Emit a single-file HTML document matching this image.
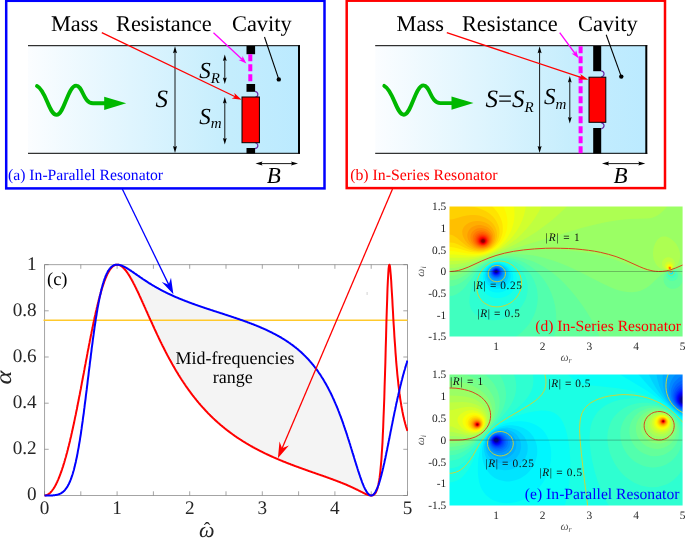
<!DOCTYPE html>
<html lang="en"><head><meta charset="utf-8"><title>Resonator absorption figure</title>
<style>html,body{margin:0;padding:0;background:#fff}svg{display:block}text{font-family:"Liberation Serif", serif;text-rendering:geometricPrecision}</style></head><body>
<svg width="685" height="538" viewBox="0 0 685 538">
<defs>
<linearGradient id="dg" x1="0" x2="1" y1="0" y2="0"><stop offset="0" stop-color="#fbfdff"/><stop offset="0.75" stop-color="#c4edfd"/><stop offset="1" stop-color="#bbeaff"/></linearGradient>
<clipPath id="cd"><rect x="449" y="206" width="234" height="131"/></clipPath>
<clipPath id="ce"><rect x="449" y="374" width="234" height="132"/></clipPath>
<clipPath id="cc"><rect x="44" y="263" width="364" height="234"/></clipPath>
</defs>
<rect width="685" height="538" fill="#fff"/>
<g id="panel-a">
<rect x="6.2" y="0.8" width="318.3" height="187.6" fill="#fff" stroke="#0000ff" stroke-width="2.5"/>
<rect x="28" y="45.7" width="271" height="107.8" fill="url(#dg)"/>
<path fill="none" stroke="#000" stroke-width="1" d="M28 45.7H300M28 153.3H300"/>
<path fill="none" stroke="#000" stroke-width="2" d="M299 45.2V153.8"/>
<rect x="246.5" y="46" width="8.6" height="8.2" fill="#000"/>
<rect x="246.5" y="84" width="8.6" height="7.8" fill="#000"/>
<rect x="246.5" y="148" width="8.6" height="5.5" fill="#000"/>
<path stroke="#ff00ff" stroke-width="4" stroke-dasharray="7 3" fill="none" d="M250.3 54.2V84"/>
<path fill="none" stroke="#6a28a8" stroke-width="1.2" d="M255.0 91.3c3.6 0.6 4 5.2 0 6.2"/>
<path fill="none" stroke="#6a28a8" stroke-width="1.2" d="M255.0 148.7c3.6 -0.6 4 -5.2 0 -6.2"/>
<rect x="242" y="97" width="17.4" height="45.7" fill="#ff0000" stroke="#000" stroke-width="1"/>
<path fill="none" stroke="#000" stroke-width="0.9" d="M175.0 51.6L175.0 147.6"/><path fill="#000" d="M175.0 153.0L173.0 146.0L175.0 147.1L177.0 146.0z"/><path fill="#000" d="M175.0 46.2L177.0 53.2L175.0 52.2L173.0 53.2z"/>
<path fill="none" stroke="#000" stroke-width="0.9" d="M224.8 59.6L224.8 79.1"/><path fill="#000" d="M224.8 84.1L222.9 77.6L224.8 78.6L226.7 77.6z"/><path fill="#000" d="M224.8 54.6L226.7 61.1L224.8 60.1L222.9 61.1z"/>
<path fill="none" stroke="#000" stroke-width="0.9" d="M224.8 102.0L224.8 139.6"/><path fill="#000" d="M224.8 144.6L222.9 138.1L224.8 139.1L226.7 138.1z"/><path fill="#000" d="M224.8 97.0L226.7 103.5L224.8 102.5L222.9 103.5z"/>
<path fill="none" stroke="#000" stroke-width="0.9" d="M260.9 163.6L292.6 163.6"/><path fill="#000" d="M298.0 163.6L291.0 165.6L292.1 163.6L291.0 161.6z"/><path fill="#000" d="M255.5 163.6L262.5 161.6L261.4 163.6L262.5 165.6z"/>
<path fill="none" stroke="#00b800" stroke-width="3.9" stroke-linecap="round" stroke-linejoin="round" d="M37.0 86.1C46.0 90.3 49.0 114.9 56.6 114.9C64.0 114.9 68.0 85.6 76.1 85.6C83.0 85.6 83.0 103.3 93.0 103.3L107.0 103.3"/><path fill="#00b800" d="M104.2 96.7L126.2 103.3L104.2 109.9z"/>
<text x="50.9" y="31" font-size="22.4">Mass</text>
<text x="116" y="31" font-size="22.4">Resistance</text>
<text x="232" y="31" font-size="22.4">Cavity</text>
<text x="155.5" y="106.8" font-size="25" font-style="italic">S</text>
<text x="199.3" y="78.3" font-size="23" font-style="italic">S<tspan font-size="15" dy="4.6">R</tspan></text>
<text x="199.3" y="123.8" font-size="23" font-style="italic">S<tspan font-size="15" dy="4.6">m</tspan></text>
<text x="266.8" y="183" font-size="23" font-style="italic">B</text>
<text x="8" y="180.2" font-size="15.7" fill="#0000ff">(a) In-Parallel Resonator</text>
<path fill="none" stroke="#ff0000" stroke-width="1.3" d="M101.8 32.7L235.8 97.0"/><path fill="#ff0000" d="M241.6 99.8L231.7 98.4L235.2 96.7L234.3 93.0z"/>
<path fill="none" stroke="#ff00ff" stroke-width="1.3" d="M213.5 32.7L242.5 59.8"/><path fill="#ff00ff" d="M246.4 63.5L238.6 60.1L242.0 59.4L242.5 56.0z"/>
<path stroke="#000" stroke-width="1.1" fill="none" d="M264.5 37L278.8 79.4"/><circle cx="278.8" cy="79.4" r="2.2" fill="#000"/>
</g>
<g id="panel-b">
<rect x="346.7" y="0.7" width="318.3" height="187.4" fill="#fff" stroke="#ff0000" stroke-width="2.5"/>
<rect x="375.2" y="45.7" width="271.1" height="107.8" fill="url(#dg)"/>
<path fill="none" stroke="#000" stroke-width="1" d="M375.2 45.7H647.3M375.2 153.3H647.3"/>
<path fill="none" stroke="#000" stroke-width="2" d="M646.3 45.2V153.8"/>
<rect x="593.2" y="46" width="8" height="25.2" fill="#000"/>
<rect x="593.2" y="128" width="8" height="25.5" fill="#000"/>
<path stroke="#ff00ff" stroke-width="4" stroke-dasharray="7 3" fill="none" d="M580.6 46.3V153.2"/>
<path fill="none" stroke="#6a28a8" stroke-width="1.2" d="M601.2 70.8c3.6 0.6 4 5.2 0 6.2"/>
<path fill="none" stroke="#6a28a8" stroke-width="1.2" d="M601.2 128.8c3.6 -0.6 4 -5.2 0 -6.2"/>
<rect x="589" y="77.2" width="16.8" height="45.1" fill="#ff0000" stroke="#000" stroke-width="1"/>
<path fill="none" stroke="#000" stroke-width="0.9" d="M539.6 51.6L539.6 147.6"/><path fill="#000" d="M539.6 153.0L537.6 146.0L539.6 147.1L541.6 146.0z"/><path fill="#000" d="M539.6 46.2L541.6 53.2L539.6 52.2L537.6 53.2z"/>
<path fill="none" stroke="#000" stroke-width="0.9" d="M569.8 81.0L569.8 118.6"/><path fill="#000" d="M569.8 123.6L567.9 117.1L569.8 118.1L571.7 117.1z"/><path fill="#000" d="M569.8 76.0L571.7 82.5L569.8 81.5L567.9 82.5z"/>
<path fill="none" stroke="#000" stroke-width="0.9" d="M607.4 163.6L639.9 163.6"/><path fill="#000" d="M645.3 163.6L638.3 165.6L639.3 163.6L638.3 161.6z"/><path fill="#000" d="M602.0 163.6L609.0 161.6L608.0 163.6L609.0 165.6z"/>
<path fill="none" stroke="#00b800" stroke-width="3.9" stroke-linecap="round" stroke-linejoin="round" d="M384.3 85.9C393.3 90.1 396.3 114.7 403.9 114.7C411.3 114.7 415.3 85.4 423.4 85.4C430.3 85.4 430.3 103.1 440.3 103.1L454.3 103.1"/><path fill="#00b800" d="M451.5 96.5L473.5 103.1L451.5 109.7z"/>
<text x="396.6" y="31" font-size="22.4">Mass</text>
<text x="461.9" y="31" font-size="22.4">Resistance</text>
<text x="578" y="31" font-size="22.4">Cavity</text>
<text x="485.5" y="106.7" font-size="25" font-style="italic">S<tspan font-style="normal">=</tspan>S<tspan font-size="15" dy="5">R</tspan></text>
<text x="544" y="104" font-size="23" font-style="italic">S<tspan font-size="15" dy="5">m</tspan></text>
<text x="613.5" y="183" font-size="23" font-style="italic">B</text>
<text x="350.2" y="179.8" font-size="15.8" fill="#ff0000">(b) In-Series Resonator</text>
<path fill="none" stroke="#ff0000" stroke-width="1.3" d="M446.8 32.7L582.3 77.8"/><path fill="#ff0000" d="M588.4 79.8L578.4 79.6L581.6 77.6L580.3 74.0z"/>
<path fill="none" stroke="#ff00ff" stroke-width="1.3" d="M559.7 32.7L575.4 54.0"/><path fill="#ff00ff" d="M578.6 58.3L571.6 53.5L575.0 53.5L576.1 50.2z"/>
<path stroke="#000" stroke-width="1.1" fill="none" d="M606.2 34.7L621.3 76.6"/><circle cx="621.3" cy="76.6" r="2.2" fill="#000"/>
</g>
<g id="plot-c">
<path fill="#f4f4f4" d="M117.1 264.7l1.5 0.1 1.4 0.3 1.5 0.4 1.5 0.6 1.4 0.7 1.5 0.8 1.4 0.8 1.5 0.9 1.4 1 1.5 1 1.4 1 1.5 1 1.4 1 1.5 1 1.4 1 1.5 1 1.4 1 1.5 1 1.4 0.9 1.5 1 1.4 0.9 1.5 1 1.4 0.9 1.5 0.8 1.4 0.9 1.5 0.9 1.4 0.8 1.5 0.8 1.4 0.8 1.5 0.8 1.5 0.8 1.4 0.7 1.5 0.7 1.4 0.8 1.5 0.7 1.4 0.7 1.5 0.6 1.4 0.7 1.5 0.7 1.4 0.6 1.5 0.6 1.4 0.6 1.5 0.6 1.4 0.6 1.5 0.6 1.4 0.6 1.5 0.6 1.4 0.5 1.5 0.6 1.4 0.5 1.5 0.6 1.4 0.5 1.5 0.5 1.4 0.5 1.5 0.5 1.4 0.5 1.5 0.5 1.4 0.5 1.5 0.5 1.5 0.5 1.4 0.5 1.5 0.5 1.4 0.5 1.5 0.4 1.4 0.5 1.5 0.5 1.4 0.5 1.5 0.4 1.4 0.5 1.5 0.5 1.4 0.5 1.5 0.4 1.4 0.5 1.5 0.5 1.4 0.4 1.5 0.5 1.4 0.5 1.5 0.5 1.4 0.5 1.5 0.4 1.4 0.5 1.5 0.5 1.4 0.5 1.5 0.5 1.4 0.5 1.5 0.5 1.4 0.5 1.5 0.6 1.5 0.5 1.4 0.5 1.5 0.6 1.4 0.5 1.5 0.6 1.4 0.5 1.5 0.6 1.4 0.6 1.5 0.6 1.4 0.6 1.5 0.6 1.4 0.6 1.5 0.7 1.4 0.6 1.5 0.7 1.4 0.7 1.5 0.7 1.4 0.7 1.5 0.7 1.4 0.7 1.5 0.8 1.4 0.8 1.5 0.8 1.4 0.8 1.5 0.9 1.4 0.8 1.5 0.9 1.5 0.9 1.4 1 1.5 1 1.4 1 1.5 1 1.4 1.1 1.5 1.1 1.4 1.1 1.5 1.2 1.4 1.2 1.5 1.3 1.4 1.3 1.5 1.4 1.4 1.4 1.5 1.4 1.4 1.5 1.5 1.6 1.4 1.6 1.5 1.7 1.4 1.8 1.5 1.8 1.4 1.9 1.5 2 1.4 2.1 1.5 2.1 1.4 2.3 1.5 2.3 1.4 2.5 1.5 2.5 1.5 2.7 1.4 2.7 1.5 2.9 1.4 3 1.5 3.2 1.4 3.3 1.5 3.4 1.4 3.5 1.5 3.7 1.4 3.8 1.5 4 1.4 4.1 1.5 4.3 1.4 4.3 1.5 4.5 1.4 4.6 1.5 4.7 1.4 4.7 1.5 4.7 1.4 4.8 1.5 4.6 1.4 4.6 1.5 4.4 1.4 4.2 1.5 3.9 1.4 3.5 1.5 3 1.5 2.5 1.4 1.8 1.5 1.2 1 0.4-1.4-0.2-1.5-0.5-1.4-0.5-1.5-0.7-1.4-0.7-1.5-0.7-1.4-0.7-1.5-0.7-1.4-0.8-1.5-0.7-1.4-0.7-1.5-0.7-1.4-0.6-1.5-0.7-1.4-0.7-1.5-0.6-1.4-0.6-1.5-0.6-1.4-0.6-1.5-0.6-1.4-0.6-1.5-0.5-1.4-0.6-1.5-0.6-1.5-0.5-1.4-0.5-1.5-0.6-1.4-0.5-1.5-0.5-1.4-0.6-1.5-0.5-1.4-0.5-1.5-0.5-1.4-0.5-1.5-0.5-1.4-0.5-1.5-0.5-1.4-0.5-1.5-0.5-1.4-0.5-1.5-0.6-1.4-0.5-1.5-0.5-1.4-0.5-1.5-0.5-1.4-0.5-1.5-0.5-1.4-0.6-1.5-0.5-1.4-0.5-1.5-0.6-1.4-0.5-1.5-0.5-1.5-0.6-1.4-0.5-1.5-0.6-1.4-0.6-1.5-0.5-1.4-0.6-1.5-0.6-1.4-0.6-1.5-0.6-1.4-0.6-1.5-0.6-1.4-0.6-1.5-0.7-1.4-0.6-1.5-0.6-1.4-0.7-1.5-0.7-1.4-0.6-1.5-0.7-1.4-0.7-1.5-0.7-1.4-0.7-1.5-0.8-1.4-0.7-1.5-0.8-1.4-0.7-1.5-0.8-1.5-0.8-1.4-0.8-1.5-0.8-1.4-0.9-1.5-0.8-1.4-0.9-1.5-0.9-1.4-0.9-1.5-0.9-1.4-0.9-1.5-1-1.4-0.9-1.5-1-1.4-1-1.5-1.1-1.4-1-1.5-1.1-1.4-1.1-1.5-1.1-1.4-1.1-1.5-1.2-1.4-1.2-1.5-1.2-1.4-1.2-1.5-1.3-1.4-1.3-1.5-1.3-1.4-1.4-1.5-1.3-1.5-1.4-1.4-1.5-1.5-1.4-1.4-1.5-1.5-1.6-1.4-1.6-1.5-1.6-1.4-1.6-1.5-1.7-1.4-1.7-1.5-1.8-1.4-1.8-1.5-1.8-1.4-1.9-1.5-1.9-1.4-2-1.5-2-1.4-2-1.5-2.2-1.4-2.1-1.5-2.2-1.4-2.3-1.5-2.3-1.4-2.3-1.5-2.4-1.4-2.5-1.5-2.5-1.4-2.5-1.5-2.7-1.5-2.6-1.4-2.7-1.5-2.8-1.4-2.8-1.5-2.9-1.4-2.9-1.5-3-1.4-3-1.5-3.1-1.4-3.1-1.5-3.1-1.4-3.2-1.5-3.2-1.4-3.2-1.5-3.2-1.4-3.3-1.5-3.2-1.4-3.3-1.5-3.2-1.4-3.2-1.5-3.2-1.4-3.2-1.5-3-1.4-3-1.5-2.9-1.4-2.8-1.5-2.7-1.5-2.5-1.4-2.3-1.5-2.1-1.4-2-1.5-1.6-1.4-1.5-1.5-1.1-1.4-0.8-1.5-0.4z"/>
<path fill="none" stroke="#a4a4a4" stroke-width="1" d="M44.55 264.65H407.50V495.50H44.55z"/>
<path fill="none" stroke="#808080" stroke-width="0.7" d="M44.5 495.5v-4.2M44.5 264.6v4.2M80.8 495.5v-4.2M80.8 264.6v4.2M117.1 495.5v-4.2M117.1 264.6v4.2M153.4 495.5v-4.2M153.4 264.6v4.2M189.7 495.5v-4.2M189.7 264.6v4.2M226.0 495.5v-4.2M226.0 264.6v4.2M262.3 495.5v-4.2M262.3 264.6v4.2M298.6 495.5v-4.2M298.6 264.6v4.2M334.9 495.5v-4.2M334.9 264.6v4.2M371.2 495.5v-4.2M371.2 264.6v4.2M407.5 495.5v-4.2M407.5 264.6v4.2M44.5 495.5h4.2M407.5 495.5h-4.2M44.5 449.3h4.2M407.5 449.3h-4.2M44.5 403.2h4.2M407.5 403.2h-4.2M44.5 357.0h4.2M407.5 357.0h-4.2M44.5 310.8h4.2M407.5 310.8h-4.2M44.5 264.6h4.2M407.5 264.6h-4.2"/>
<path stroke="#ffc92c" stroke-width="1.4" d="M43.5 320.3H407.5"/>
<g clip-path="url(#cc)">
<path fill="none" stroke="#ff0000" stroke-width="2" stroke-linejoin="round" d="M44.6 495.5l0.3 0 0.4 0 0.3-0.1 0.4-0.1 0.4-0.1 0.3-0.1 0.4-0.2 0.4-0.1 0.3-0.2 0.4-0.2 0.3-0.3 0.4-0.2 0.4-0.3 0.3-0.3 0.4-0.3 0.4-0.4 0.3-0.4 0.4-0.4 0.4-0.4 0.3-0.4 0.4-0.5 0.3-0.5 0.4-0.5 0.4-0.5 0.3-0.5 0.4-0.6 0.4-0.6 0.3-0.6 0.4-0.7 0.3-0.6 0.4-0.7 0.4-0.7 0.3-0.8 0.4-0.7 0.4-0.8 0.3-0.8 0.4-0.8 0.3-0.9 0.4-0.8 0.4-0.9 0.3-0.9 0.4-1 0.4-0.9 0.3-1 0.4-1 0.4-1 0.3-1.1 0.4-1 0.3-1.1 0.4-1.1 0.4-1.1 0.3-1.2 0.4-1.2 0.4-1.2 0.3-1.2 0.4-1.2 0.3-1.3 0.4-1.2 0.4-1.3 0.3-1.4 0.4-1.3 0.4-1.3 0.3-1.4 0.4-1.4 0.3-1.4 0.4-1.5 0.4-1.4 0.3-1.5 0.4-1.5 0.4-1.5 0.3-1.6 0.4-1.5 0.4-1.6 0.3-1.6 0.4-1.6 0.3-1.6 0.4-1.6 0.4-1.7 0.3-1.6 0.4-1.7 0.4-1.7 0.3-1.7 0.4-1.8 0.3-1.7 0.4-1.8 0.4-1.7 0.3-1.8 0.4-1.8 0.4-1.8 0.3-1.8 0.4-1.9 0.3-1.8 0.4-1.8 0.4-1.9 0.3-1.9 0.4-1.9 0.4-1.8 0.3-1.9 0.4-1.9 0.4-1.9 0.3-2 0.4-1.9 0.3-1.9 0.4-1.9 0.4-2 0.3-1.9 0.4-1.9 0.4-2 0.3-1.9 0.4-1.9 0.3-2 0.4-1.9 0.4-1.9 0.3-2 0.4-1.9 0.4-1.9 0.3-2 0.4-1.9 0.3-1.9 0.4-1.9 0.4-1.9 0.3-1.9 0.4-1.9 0.4-1.8 0.3-1.9 0.4-1.8 0.4-1.9 0.3-1.8 0.4-1.8 0.3-1.8 0.4-1.8 0.4-1.8 0.3-1.7 0.4-1.8 0.4-1.7 0.3-1.7 0.4-1.7 0.3-1.7 0.4-1.6 0.4-1.7 0.3-1.6 0.4-1.6 0.4-1.5 0.3-1.6 0.4-1.5 0.3-1.5 0.4-1.5 0.4-1.4 0.3-1.5 0.4-1.4 0.4-1.4 0.3-1.3 0.4-1.3 0.4-1.4 0.3-1.2 0.4-1.3 0.3-1.2 0.4-1.2 0.4-1.2 0.3-1.1 0.4-1.1 0.4-1.1 0.3-1 0.4-1.1 0.3-1 0.4-0.9 0.4-1 0.3-0.9 0.4-0.9 0.4-0.8 0.3-0.8 0.4-0.8 0.3-0.8 0.4-0.7 0.4-0.7 0.3-0.7 0.4-0.6 0.4-0.6 0.3-0.6 0.4-0.6 0.3-0.5 0.4-0.5 0.4-0.4 0.3-0.5 0.4-0.4 0.4-0.4 0.3-0.3 0.4-0.3 0.4-0.3 0.3-0.3 0.4-0.2 0.3-0.3 0.4-0.1 0.4-0.2 0.3-0.1 0.4-0.2 0.4 0 0.3-0.1 0.4 0 0.3 0 0.4 0 0.4 0 0.3 0.1 0.4 0 0.4 0.1 0.3 0.2 0.4 0.1 0.3 0.2 0.4 0.2 0.4 0.2 0.3 0.2 0.4 0.3 0.4 0.2 0.3 0.3 0.4 0.3 0.4 0.4 0.3 0.3 0.4 0.4 0.3 0.4 0.4 0.4 0.4 0.4 0.3 0.4 0.4 0.4 0.4 0.5 0.3 0.5 0.4 0.5 0.3 0.5 0.4 0.5 0.4 0.5 0.3 0.5 0.4 0.6 0.4 0.6 0.3 0.5 0.4 0.6 0.3 0.6 0.4 0.6 0.4 0.7 0.3 0.6 0.4 0.6 0.4 0.7 0.3 0.7 0.4 0.6 0.4 0.7 0.3 0.7 0.4 0.7 0.3 0.7 0.4 0.7 0.4 0.7 0.3 0.7 0.4 0.8 0.4 0.7 0.3 0.7 0.4 0.8 0.3 0.7 0.4 0.8 0.4 0.7 0.3 0.8 0.4 0.8 0.4 0.7 0.3 0.8 0.4 0.8 0.3 0.8 0.4 0.8 0.4 0.8 0.3 0.8 0.4 0.8 0.4 0.8 0.3 0.8 0.4 0.8 0.4 0.8 0.3 0.8 0.4 0.8 0.3 0.8 0.4 0.8 0.4 0.8 0.3 0.8 0.4 0.8 0.4 0.9 0.3 0.8 0.4 0.8 0.3 0.8 0.4 0.8 0.4 0.8 0.3 0.8 0.4 0.9 0.4 0.8 0.3 0.8 0.4 0.8 0.3 0.8 0.4 0.8 0.4 0.8 0.3 0.8 0.4 0.8 0.4 0.8 0.3 0.8 0.4 0.8 0.4 0.8 0.3 0.8 0.4 0.8 0.3 0.8 0.4 0.8 0.4 0.8 0.3 0.8 0.4 0.8 0.4 0.8 0.3 0.8 0.4 0.7 0.3 0.8 0.4 0.8 0.4 0.8 0.3 0.7 0.4 0.8 0.4 0.8 0.3 0.7 0.4 0.8 0.3 0.8 0.4 0.7 0.4 0.8 0.3 0.7 0.4 0.8 0.4 0.7 0.3 0.7 0.4 0.8 0.4 0.7 0.3 0.8 0.4 0.7 0.3 0.7 0.4 0.7 0.4 0.7 0.3 0.8 0.4 0.7 0.4 0.7 0.3 0.7 0.4 0.7 0.3 0.7 0.4 0.7 0.4 0.7 0.3 0.7 0.4 0.7 0.4 0.6 0.3 0.7 0.4 0.7 0.3 0.7 0.4 0.7 0.4 0.6 0.3 0.7 0.4 0.6 0.4 0.7 0.3 0.7 0.4 0.6 0.4 0.7 0.3 0.6 0.4 0.6 0.3 0.7 0.4 0.6 0.4 0.6 0.3 0.7 0.4 0.6 0.4 0.6 0.3 0.6 0.4 0.7 0.3 0.6 0.4 0.6 0.4 0.6 0.3 0.6 0.4 0.6 0.4 0.6 0.3 0.6 0.4 0.6 0.3 0.6 0.4 0.5 0.4 0.6 0.3 0.6 0.4 0.6 0.4 0.5 0.3 0.6 0.4 0.6 0.3 0.5 0.4 0.6 0.4 0.5 0.3 0.6 0.4 0.5 0.4 0.6 0.3 0.5 0.4 0.6 0.4 0.5 0.3 0.5 0.4 0.6 0.3 0.5 0.4 0.5 0.4 0.6 0.3 0.5 0.4 0.5 0.4 0.5 0.3 0.5 0.4 0.5 0.3 0.5 0.4 0.5 0.4 0.5 0.3 0.5 0.4 0.5 0.4 0.5 0.3 0.5 0.4 0.5 0.3 0.5 0.4 0.4 0.4 0.5 0.3 0.5 0.4 0.5 0.4 0.4 0.3 0.5 0.4 0.5 0.4 0.4 0.3 0.5 0.4 0.4 0.3 0.5 0.4 0.4 0.4 0.5 0.3 0.4 0.4 0.5 0.4 0.4 0.3 0.5 0.4 0.4 0.3 0.4 0.4 0.5 0.4 0.4 0.3 0.4 0.4 0.4 0.4 0.5 0.3 0.4 0.4 0.4 0.3 0.4 0.4 0.4 0.4 0.4 0.3 0.4 0.4 0.4 0.4 0.4 0.3 0.4 0.4 0.4 0.4 0.4 0.3 0.4 0.4 0.4 0.3 0.4 0.4 0.4 0.4 0.4 0.3 0.4 0.4 0.4 0.4 0.3 0.3 0.4 0.4 0.4 0.3 0.4 0.4 0.3 0.4 0.4 0.3 0.4 0.4 0.3 0.4 0.4 0.3 0.4 0.4 0.3 0.3 0.4 0.4 0.3 0.4 0.4 0.3 0.3 0.4 0.4 0.4 0.3 0.3 0.4 0.4 0.3 0.4 0.3 0.3 0.4 0.4 0.3 0.3 0.4 0.4 0.3 0.4 0.3 0.3 0.4 0.4 0.3 0.4 0.3 0.3 0.3 0.4 0.4 0.3 0.3 0.4 0.3 0.4 0.3 0.3 0.3 0.4 0.4 0.4 0.3 0.3 0.3 0.4 0.3 0.3 0.3 0.4 0.3 0.4 0.3 0.3 0.3 0.4 0.3 0.4 0.3 0.3 0.3 0.4 0.3 0.4 0.3 0.3 0.3 0.4 0.3 0.3 0.3 0.4 0.3 0.4 0.3 0.3 0.2 0.4 0.3 0.4 0.3 0.3 0.3 0.4 0.3 0.3 0.3 0.4 0.2 0.4 0.3 0.3 0.3 0.4 0.3 0.4 0.2 0.3 0.3 0.4 0.3 0.3 0.2 0.4 0.3 0.4 0.3 0.3 0.2 0.4 0.3 0.4 0.3 0.3 0.2 0.4 0.3 0.4 0.2 0.3 0.3 0.4 0.3 0.3 0.2 0.4 0.3 0.4 0.2 0.3 0.3 0.4 0.2 0.4 0.3 0.3 0.2 0.4 0.3 0.3 0.2 0.4 0.2 0.4 0.3 0.3 0.2 0.4 0.3 0.4 0.2 0.3 0.2 0.4 0.3 0.3 0.2 0.4 0.2 0.4 0.3 0.3 0.2 0.4 0.2 0.4 0.3 0.3 0.2 0.4 0.2 0.3 0.2 0.4 0.3 0.4 0.2 0.3 0.2 0.4 0.2 0.4 0.3 0.3 0.2 0.4 0.2 0.4 0.2 0.3 0.2 0.4 0.3 0.3 0.2 0.4 0.2 0.4 0.2 0.3 0.2 0.4 0.2 0.4 0.2 0.3 0.2 0.4 0.3 0.3 0.2 0.4 0.2 0.4 0.2 0.3 0.2 0.4 0.2 0.4 0.2 0.3 0.2 0.4 0.2 0.3 0.2 0.4 0.2 0.4 0.2 0.3 0.2 0.4 0.2 0.4 0.2 0.3 0.2 0.4 0.2 0.4 0.2 0.3 0.2 0.4 0.1 0.3 0.2 0.4 0.2 0.4 0.2 0.3 0.2 0.4 0.2 0.4 0.2 0.3 0.2 0.4 0.2 0.3 0.1 0.4 0.2 0.4 0.2 0.3 0.2 0.4 0.2 0.4 0.2 0.3 0.1 0.4 0.2 0.3 0.2 0.4 0.2 0.4 0.2 0.3 0.1 0.4 0.2 0.4 0.2 0.3 0.2 0.4 0.1 0.4 0.2 0.3 0.2 0.4 0.1 0.3 0.2 0.4 0.2 0.4 0.2 0.3 0.1 0.4 0.2 0.4 0.2 0.3 0.1 0.4 0.2 0.3 0.2 0.4 0.1 0.4 0.2 0.3 0.2 0.4 0.1 0.4 0.2 0.3 0.2 0.4 0.1 0.3 0.2 0.4 0.1 0.4 0.2 0.3 0.2 0.4 0.1 0.4 0.2 0.3 0.1 0.4 0.2 0.4 0.2 0.3 0.1 0.4 0.2 0.3 0.1 0.4 0.2 0.4 0.1 0.3 0.2 0.4 0.2 0.4 0.1 0.3 0.2 0.4 0.1 0.3 0.2 0.4 0.1 0.4 0.2 0.3 0.1 0.4 0.2 0.4 0.1 0.3 0.2 0.4 0.1 0.3 0.2 0.4 0.1 0.4 0.2 0.3 0.1 0.4 0.2 0.4 0.1 0.3 0.1 0.4 0.2 0.4 0.1 0.3 0.2 0.4 0.1 0.3 0.2 0.4 0.1 0.4 0.2 0.3 0.1 0.4 0.1 0.4 0.2 0.3 0.1 0.4 0.2 0.3 0.1 0.4 0.1 0.4 0.2 0.3 0.1 0.4 0.2 0.4 0.1 0.3 0.1 0.4 0.2 0.3 0.1 0.4 0.2 0.4 0.1 0.3 0.1 0.4 0.2 0.4 0.1 0.3 0.1 0.4 0.2 0.4 0.1 0.3 0.1 0.4 0.2 0.3 0.1 0.4 0.1 0.4 0.2 0.3 0.1 0.4 0.1 0.4 0.2 0.3 0.1 0.4 0.1 0.3 0.2 0.4 0.1 0.4 0.1 0.3 0.2 0.4 0.1 0.4 0.1 0.3 0.2 0.4 0.1 0.3 0.1 0.4 0.2 0.4 0.1 0.3 0.1 0.4 0.2 0.4 0.1 0.3 0.1 0.4 0.1 0.4 0.2 0.3 0.1 0.4 0.1 0.3 0.2 0.4 0.1 0.4 0.1 0.3 0.1 0.4 0.2 0.4 0.1 0.3 0.1 0.4 0.2 0.3 0.1 0.4 0.1 0.4 0.1 0.3 0.2 0.4 0.1 0.4 0.1 0.3 0.1 0.4 0.2 0.3 0.1 0.4 0.1 0.4 0.2 0.3 0.1 0.4 0.1 0.4 0.1 0.3 0.2 0.4 0.1 0.3 0.1 0.4 0.1 0.4 0.2 0.3 0.1 0.4 0.1 0.4 0.2 0.3 0.1 0.4 0.1 0.4 0.1 0.3 0.2 0.4 0.1 0.3 0.1 0.4 0.1 0.4 0.2 0.3 0.1 0.4 0.1 0.4 0.1 0.3 0.2 0.4 0.1 0.3 0.1 0.4 0.2 0.4 0.1 0.3 0.1 0.4 0.1 0.4 0.2 0.3 0.1 0.4 0.1 0.3 0.1 0.4 0.2 0.4 0.1 0.3 0.1 0.4 0.2 0.4 0.1 0.3 0.1 0.4 0.1 0.4 0.2 0.3 0.1 0.4 0.1 0.3 0.2 0.4 0.1 0.4 0.1 0.3 0.2 0.4 0.1 0.4 0.1 0.3 0.2 0.4 0.1 0.3 0.1 0.4 0.2 0.4 0.1 0.3 0.1 0.4 0.2 0.4 0.1 0.3 0.1 0.4 0.2 0.3 0.1 0.4 0.1 0.4 0.2 0.3 0.1 0.4 0.1 0.4 0.2 0.3 0.1 0.4 0.2 0.4 0.1 0.3 0.1 0.4 0.2 0.3 0.1 0.4 0.2 0.4 0.1 0.3 0.1 0.4 0.2 0.4 0.1 0.3 0.2 0.4 0.1 0.3 0.2 0.4 0.1 0.4 0.1 0.3 0.2 0.4 0.1 0.4 0.2 0.3 0.1 0.4 0.2 0.3 0.1 0.4 0.2 0.4 0.1 0.3 0.2 0.4 0.1 0.4 0.2 0.3 0.1 0.4 0.2 0.4 0.2 0.3 0.1 0.4 0.2 0.3 0.1 0.4 0.2 0.4 0.1 0.3 0.2 0.4 0.2 0.4 0.1 0.3 0.2 0.4 0.2 0.3 0.1 0.4 0.2 0.4 0.2 0.3 0.1 0.4 0.2 0.4 0.2 0.3 0.1 0.4 0.2 0.3 0.2 0.4 0.1 0.4 0.2 0.3 0.2 0.4 0.2 0.4 0.1 0.3 0.2 0.4 0.2 0.4 0.2 0.3 0.2 0.4 0.1 0.3 0.2 0.4 0.2 0.4 0.2 0.3 0.2 0.4 0.1 0.4 0.2 0.3 0.2 0.4 0.2 0.3 0.2 0.4 0.2 0.4 0.1 0.3 0.2 0.4 0.2 0.4 0.2 0.3 0.2 0.4 0.1 0.3 0.2 0.4 0.2 0.4 0.2 0.3 0.1 0.4 0.2 0.4 0.2 0.3 0.1 0.4 0.2 0.4 0.1 0.3 0.2 0.4 0.1 0.3 0.1 0.4 0.2 0.4 0.1 0.3 0.1 0.4 0.1 0.4 0 0.3 0.1 0.4 0.1 0.3 0 0.4 0 0.4 0 0.3 0 0.4-0.1 0.4-0.1 0.3-0.1 0.4-0.2 0.3-0.2 0.4-0.3 0.4-0.3 0.3-0.4 0.4-0.5 0.4-0.5 0.3-0.6 0.4-0.7 0.3-0.9 0.4-0.9 0.4-1.1 0.3-1.3 0.4-1.4 0.4-1.7 0.3-1.9 0.4-2.1 0.4-2.5 0.3-2.7 0.4-3.2 0.3-3.5 0.4-4.1 0.4-4.5 0.3-5.1 0.4-5.8 0.4-6.4 0.3-7.3 0.4-8 0.3-8.8 0.4-9.8 0.4-10.5 0.3-11.4 0.4-12.1 0.4-12.7 0.3-13.1 0.4-13.1 0.3-12.9 0.4-12.4 0.4-11.4 0.3-10.2 0.4-8.5 0.4-6.8 0.3-4.8 0.4-2.9 0.4-1 0.3 0.6 0.4 2.2 0.3 3.5 0.4 4.4 0.4 5.3 0.3 5.8 0.4 6.2 0.4 6.4 0.3 6.4 0.4 6.5 0.3 6.4 0.4 6.2 0.4 6 0.3 5.8 0.4 5.5 0.4 5.3 0.3 5.1 0.4 4.8 0.3 4.6 0.4 4.3 0.4 4.1 0.3 3.9 0.4 3.7 0.4 3.5 0.3 3.3 0.4 3.1 0.4 3 0.3 2.8 0.4 2.7 0.3 2.5 0.4 2.5 0.4 2.3 0.3 2.1 0.4 2.1 0.4 2 0.3 1.9 0.4 1.8 0.3 1.8 0.4 1.6 0.4 1.6 0.3 1.5 0.4 1.5 0.4 1.4 0.3 1.3 0.4 1.3 0.3 1.2 0.4 1.2 0.4 1.1 0.3 1.1 0.4 1.1"/>
<path fill="none" stroke="#0000ff" stroke-width="2" stroke-linejoin="round" d="M44.6 495.5l0.3 0 0.4 0 0.3 0 0.4 0 0.4 0 0.3 0 0.4 0 0.4 0 0.3 0 0.4 0 0.3 0 0.4 0 0.4 0 0.3 0 0.4 0 0.4 0 0.3 0 0.4-0.1 0.4 0 0.3 0 0.4 0 0.3 0 0.4 0 0.4-0.1 0.3 0 0.4 0 0.4-0.1 0.3 0 0.4-0.1 0.3 0 0.4-0.1 0.4 0 0.3-0.1 0.4-0.1 0.4-0.1 0.3-0.1 0.4-0.1 0.3-0.1 0.4-0.1 0.4-0.1 0.3-0.2 0.4-0.1 0.4-0.2 0.3-0.2 0.4-0.2 0.4-0.2 0.3-0.2 0.4-0.2 0.3-0.3 0.4-0.3 0.4-0.2 0.3-0.4 0.4-0.3 0.4-0.3 0.3-0.4 0.4-0.4 0.3-0.4 0.4-0.5 0.4-0.5 0.3-0.5 0.4-0.5 0.4-0.5 0.3-0.6 0.4-0.7 0.3-0.6 0.4-0.7 0.4-0.7 0.3-0.8 0.4-0.8 0.4-0.8 0.3-0.9 0.4-0.9 0.4-1 0.3-1 0.4-1 0.3-1.1 0.4-1.1 0.4-1.2 0.3-1.3 0.4-1.2 0.4-1.4 0.3-1.4 0.4-1.4 0.3-1.5 0.4-1.6 0.4-1.6 0.3-1.6 0.4-1.7 0.4-1.8 0.3-1.8 0.4-1.9 0.3-2 0.4-2 0.4-2 0.3-2.1 0.4-2.2 0.4-2.2 0.3-2.3 0.4-2.3 0.4-2.4 0.3-2.5 0.4-2.4 0.3-2.6 0.4-2.6 0.4-2.6 0.3-2.7 0.4-2.7 0.4-2.7 0.3-2.8 0.4-2.8 0.3-2.9 0.4-2.8 0.4-2.9 0.3-3 0.4-2.9 0.4-3 0.3-2.9 0.4-3 0.3-3 0.4-3 0.4-3 0.3-3 0.4-3 0.4-2.9 0.3-3 0.4-2.9 0.4-3 0.3-2.9 0.4-2.8 0.3-2.9 0.4-2.8 0.4-2.8 0.3-2.7 0.4-2.7 0.4-2.7 0.3-2.6 0.4-2.6 0.3-2.5 0.4-2.5 0.4-2.5 0.3-2.3 0.4-2.4 0.4-2.2 0.3-2.3 0.4-2.1 0.3-2.1 0.4-2.1 0.4-2 0.3-1.9 0.4-1.9 0.4-1.8 0.3-1.8 0.4-1.7 0.4-1.6 0.3-1.6 0.4-1.5 0.3-1.5 0.4-1.4 0.4-1.4 0.3-1.3 0.4-1.3 0.4-1.2 0.3-1.2 0.4-1.1 0.3-1 0.4-1 0.4-1 0.3-0.9 0.4-0.9 0.4-0.8 0.3-0.8 0.4-0.8 0.3-0.7 0.4-0.6 0.4-0.7 0.3-0.6 0.4-0.5 0.4-0.6 0.3-0.4 0.4-0.5 0.3-0.4 0.4-0.4 0.4-0.4 0.3-0.3 0.4-0.3 0.4-0.3 0.3-0.3 0.4-0.2 0.4-0.2 0.3-0.2 0.4-0.2 0.3-0.1 0.4-0.2 0.4-0.1 0.3-0.1 0.4 0 0.4-0.1 0.3 0 0.4 0 0.3 0 0.4 0 0.4 0 0.3 0 0.4 0.1 0.4 0 0.3 0.1 0.4 0.1 0.3 0.1 0.4 0.1 0.4 0.1 0.3 0.1 0.4 0.1 0.4 0.2 0.3 0.1 0.4 0.2 0.4 0.1 0.3 0.2 0.4 0.1 0.3 0.2 0.4 0.2 0.4 0.2 0.3 0.2 0.4 0.2 0.4 0.2 0.3 0.2 0.4 0.2 0.3 0.2 0.4 0.2 0.4 0.3 0.3 0.2 0.4 0.2 0.4 0.2 0.3 0.3 0.4 0.2 0.3 0.3 0.4 0.2 0.4 0.2 0.3 0.3 0.4 0.2 0.4 0.3 0.3 0.2 0.4 0.3 0.4 0.2 0.3 0.3 0.4 0.2 0.3 0.3 0.4 0.2 0.4 0.3 0.3 0.2 0.4 0.3 0.4 0.2 0.3 0.3 0.4 0.2 0.3 0.3 0.4 0.2 0.4 0.3 0.3 0.2 0.4 0.3 0.4 0.2 0.3 0.3 0.4 0.2 0.3 0.3 0.4 0.2 0.4 0.3 0.3 0.2 0.4 0.3 0.4 0.2 0.3 0.3 0.4 0.2 0.4 0.3 0.3 0.2 0.4 0.3 0.3 0.2 0.4 0.3 0.4 0.2 0.3 0.2 0.4 0.3 0.4 0.2 0.3 0.3 0.4 0.2 0.3 0.2 0.4 0.3 0.4 0.2 0.3 0.2 0.4 0.3 0.4 0.2 0.3 0.2 0.4 0.3 0.3 0.2 0.4 0.2 0.4 0.2 0.3 0.3 0.4 0.2 0.4 0.2 0.3 0.2 0.4 0.2 0.4 0.3 0.3 0.2 0.4 0.2 0.3 0.2 0.4 0.2 0.4 0.2 0.3 0.3 0.4 0.2 0.4 0.2 0.3 0.2 0.4 0.2 0.3 0.2 0.4 0.2 0.4 0.2 0.3 0.2 0.4 0.2 0.4 0.2 0.3 0.2 0.4 0.2 0.3 0.2 0.4 0.2 0.4 0.2 0.3 0.2 0.4 0.2 0.4 0.2 0.3 0.2 0.4 0.2 0.4 0.2 0.3 0.2 0.4 0.1 0.3 0.2 0.4 0.2 0.4 0.2 0.3 0.2 0.4 0.2 0.4 0.1 0.3 0.2 0.4 0.2 0.3 0.2 0.4 0.2 0.4 0.1 0.3 0.2 0.4 0.2 0.4 0.2 0.3 0.1 0.4 0.2 0.3 0.2 0.4 0.2 0.4 0.1 0.3 0.2 0.4 0.2 0.4 0.1 0.3 0.2 0.4 0.2 0.4 0.1 0.3 0.2 0.4 0.2 0.3 0.1 0.4 0.2 0.4 0.2 0.3 0.1 0.4 0.2 0.4 0.1 0.3 0.2 0.4 0.2 0.3 0.1 0.4 0.2 0.4 0.1 0.3 0.2 0.4 0.1 0.4 0.2 0.3 0.1 0.4 0.2 0.3 0.1 0.4 0.2 0.4 0.1 0.3 0.2 0.4 0.1 0.4 0.2 0.3 0.1 0.4 0.2 0.3 0.1 0.4 0.2 0.4 0.1 0.3 0.2 0.4 0.1 0.4 0.2 0.3 0.1 0.4 0.1 0.4 0.2 0.3 0.1 0.4 0.2 0.3 0.1 0.4 0.1 0.4 0.2 0.3 0.1 0.4 0.2 0.4 0.1 0.3 0.1 0.4 0.2 0.3 0.1 0.4 0.2 0.4 0.1 0.3 0.1 0.4 0.2 0.4 0.1 0.3 0.1 0.4 0.2 0.3 0.1 0.4 0.1 0.4 0.2 0.3 0.1 0.4 0.1 0.4 0.1 0.3 0.2 0.4 0.1 0.4 0.1 0.3 0.2 0.4 0.1 0.3 0.1 0.4 0.2 0.4 0.1 0.3 0.1 0.4 0.1 0.4 0.2 0.3 0.1 0.4 0.1 0.3 0.1 0.4 0.2 0.4 0.1 0.3 0.1 0.4 0.1 0.4 0.2 0.3 0.1 0.4 0.1 0.3 0.1 0.4 0.2 0.4 0.1 0.3 0.1 0.4 0.1 0.4 0.2 0.3 0.1 0.4 0.1 0.4 0.1 0.3 0.1 0.4 0.2 0.3 0.1 0.4 0.1 0.4 0.1 0.3 0.2 0.4 0.1 0.4 0.1 0.3 0.1 0.4 0.1 0.3 0.2 0.4 0.1 0.4 0.1 0.3 0.1 0.4 0.1 0.4 0.1 0.3 0.2 0.4 0.1 0.3 0.1 0.4 0.1 0.4 0.1 0.3 0.2 0.4 0.1 0.4 0.1 0.3 0.1 0.4 0.1 0.4 0.2 0.3 0.1 0.4 0.1 0.3 0.1 0.4 0.1 0.4 0.1 0.3 0.2 0.4 0.1 0.4 0.1 0.3 0.1 0.4 0.1 0.3 0.1 0.4 0.2 0.4 0.1 0.3 0.1 0.4 0.1 0.4 0.1 0.3 0.2 0.4 0.1 0.3 0.1 0.4 0.1 0.4 0.1 0.3 0.1 0.4 0.2 0.4 0.1 0.3 0.1 0.4 0.1 0.4 0.1 0.3 0.1 0.4 0.2 0.3 0.1 0.4 0.1 0.4 0.1 0.3 0.1 0.4 0.2 0.4 0.1 0.3 0.1 0.4 0.1 0.3 0.1 0.4 0.2 0.4 0.1 0.3 0.1 0.4 0.1 0.4 0.1 0.3 0.1 0.4 0.2 0.3 0.1 0.4 0.1 0.4 0.1 0.3 0.2 0.4 0.1 0.4 0.1 0.3 0.1 0.4 0.1 0.4 0.2 0.3 0.1 0.4 0.1 0.3 0.1 0.4 0.1 0.4 0.2 0.3 0.1 0.4 0.1 0.4 0.1 0.3 0.2 0.4 0.1 0.3 0.1 0.4 0.1 0.4 0.2 0.3 0.1 0.4 0.1 0.4 0.1 0.3 0.2 0.4 0.1 0.3 0.1 0.4 0.1 0.4 0.2 0.3 0.1 0.4 0.1 0.4 0.1 0.3 0.2 0.4 0.1 0.3 0.1 0.4 0.2 0.4 0.1 0.3 0.1 0.4 0.2 0.4 0.1 0.3 0.1 0.4 0.2 0.4 0.1 0.3 0.1 0.4 0.1 0.3 0.2 0.4 0.1 0.4 0.2 0.3 0.1 0.4 0.1 0.4 0.2 0.3 0.1 0.4 0.1 0.3 0.2 0.4 0.1 0.4 0.1 0.3 0.2 0.4 0.1 0.4 0.2 0.3 0.1 0.4 0.1 0.3 0.2 0.4 0.1 0.4 0.2 0.3 0.1 0.4 0.2 0.4 0.1 0.3 0.1 0.4 0.2 0.4 0.1 0.3 0.2 0.4 0.1 0.3 0.2 0.4 0.1 0.4 0.2 0.3 0.1 0.4 0.2 0.4 0.1 0.3 0.2 0.4 0.1 0.3 0.2 0.4 0.1 0.4 0.2 0.3 0.2 0.4 0.1 0.4 0.2 0.3 0.1 0.4 0.2 0.3 0.1 0.4 0.2 0.4 0.2 0.3 0.1 0.4 0.2 0.4 0.1 0.3 0.2 0.4 0.2 0.4 0.1 0.3 0.2 0.4 0.2 0.3 0.1 0.4 0.2 0.4 0.2 0.3 0.2 0.4 0.1 0.4 0.2 0.3 0.2 0.4 0.2 0.3 0.1 0.4 0.2 0.4 0.2 0.3 0.2 0.4 0.1 0.4 0.2 0.3 0.2 0.4 0.2 0.3 0.2 0.4 0.2 0.4 0.2 0.3 0.1 0.4 0.2 0.4 0.2 0.3 0.2 0.4 0.2 0.4 0.2 0.3 0.2 0.4 0.2 0.3 0.2 0.4 0.2 0.4 0.2 0.3 0.2 0.4 0.2 0.4 0.2 0.3 0.2 0.4 0.2 0.3 0.2 0.4 0.2 0.4 0.2 0.3 0.2 0.4 0.3 0.4 0.2 0.3 0.2 0.4 0.2 0.3 0.2 0.4 0.3 0.4 0.2 0.3 0.2 0.4 0.2 0.4 0.3 0.3 0.2 0.4 0.2 0.4 0.2 0.3 0.3 0.4 0.2 0.3 0.3 0.4 0.2 0.4 0.2 0.3 0.3 0.4 0.2 0.4 0.3 0.3 0.2 0.4 0.3 0.3 0.2 0.4 0.3 0.4 0.2 0.3 0.3 0.4 0.3 0.4 0.2 0.3 0.3 0.4 0.2 0.3 0.3 0.4 0.3 0.4 0.3 0.3 0.2 0.4 0.3 0.4 0.3 0.3 0.3 0.4 0.3 0.4 0.2 0.3 0.3 0.4 0.3 0.3 0.3 0.4 0.3 0.4 0.3 0.3 0.3 0.4 0.3 0.4 0.3 0.3 0.3 0.4 0.3 0.3 0.4 0.4 0.3 0.4 0.3 0.3 0.3 0.4 0.3 0.4 0.4 0.3 0.3 0.4 0.3 0.3 0.4 0.4 0.3 0.4 0.4 0.3 0.3 0.4 0.4 0.4 0.3 0.3 0.4 0.4 0.3 0.4 0.4 0.3 0.4 0.4 0.3 0.3 0.4 0.4 0.4 0.4 0.4 0.3 0.3 0.4 0.4 0.4 0.4 0.3 0.4 0.4 0.4 0.3 0.4 0.4 0.4 0.4 0.4 0.3 0.4 0.4 0.5 0.4 0.4 0.3 0.4 0.4 0.4 0.3 0.5 0.4 0.4 0.4 0.4 0.3 0.5 0.4 0.4 0.4 0.5 0.3 0.5 0.4 0.4 0.3 0.5 0.4 0.5 0.4 0.4 0.3 0.5 0.4 0.5 0.4 0.5 0.3 0.5 0.4 0.5 0.4 0.5 0.3 0.5 0.4 0.6 0.3 0.5 0.4 0.5 0.4 0.5 0.3 0.6 0.4 0.5 0.4 0.6 0.3 0.5 0.4 0.6 0.3 0.6 0.4 0.6 0.4 0.5 0.3 0.6 0.4 0.6 0.4 0.6 0.3 0.6 0.4 0.6 0.3 0.7 0.4 0.6 0.4 0.6 0.3 0.7 0.4 0.6 0.4 0.7 0.3 0.6 0.4 0.7 0.4 0.7 0.3 0.7 0.4 0.6 0.3 0.7 0.4 0.7 0.4 0.8 0.3 0.7 0.4 0.7 0.4 0.7 0.3 0.8 0.4 0.7 0.3 0.8 0.4 0.7 0.4 0.8 0.3 0.8 0.4 0.8 0.4 0.8 0.3 0.8 0.4 0.8 0.3 0.8 0.4 0.9 0.4 0.8 0.3 0.8 0.4 0.9 0.4 0.9 0.3 0.8 0.4 0.9 0.4 0.9 0.3 0.9 0.4 0.9 0.3 0.9 0.4 1 0.4 0.9 0.3 1 0.4 0.9 0.4 1 0.3 0.9 0.4 1 0.3 1 0.4 1 0.4 1 0.3 1 0.4 1 0.4 1.1 0.3 1 0.4 1.1 0.3 1 0.4 1.1 0.4 1.1 0.3 1 0.4 1.1 0.4 1.1 0.3 1.1 0.4 1.1 0.4 1.2 0.3 1.1 0.4 1.1 0.3 1.1 0.4 1.2 0.4 1.1 0.3 1.2 0.4 1.1 0.4 1.2 0.3 1.2 0.4 1.2 0.3 1.1 0.4 1.2 0.4 1.2 0.3 1.2 0.4 1.2 0.4 1.1 0.3 1.2 0.4 1.2 0.3 1.2 0.4 1.2 0.4 1.2 0.3 1.2 0.4 1.1 0.4 1.2 0.3 1.2 0.4 1.1 0.4 1.2 0.3 1.1 0.4 1.2 0.3 1.1 0.4 1.1 0.4 1.1 0.3 1.1 0.4 1.1 0.4 1.1 0.3 1 0.4 1.1 0.3 1 0.4 1 0.4 1 0.3 0.9 0.4 1 0.4 0.9 0.3 0.9 0.4 0.8 0.3 0.9 0.4 0.8 0.4 0.7 0.3 0.8 0.4 0.7 0.4 0.7 0.3 0.6 0.4 0.6 0.4 0.6 0.3 0.5 0.4 0.5 0.3 0.4 0.4 0.4 0.4 0.4 0.3 0.3 0.4 0.3 0.4 0.2 0.3 0.2 0.4 0.1 0.3 0.1 0.4 0 0.4 0 0.3-0.1 0.4-0.1 0.4-0.2 0.3-0.2 0.4-0.3 0.3-0.4 0.4-0.4 0.4-0.4 0.3-0.5 0.4-0.6 0.4-0.6 0.3-0.7 0.4-0.7 0.3-0.7 0.4-0.9 0.4-0.8 0.3-0.9 0.4-1 0.4-1 0.3-1.1 0.4-1.1 0.4-1.2 0.3-1.2 0.4-1.2 0.3-1.3 0.4-1.4 0.4-1.3 0.3-1.4 0.4-1.5 0.4-1.5 0.3-1.5 0.4-1.5 0.3-1.6 0.4-1.6 0.4-1.6 0.3-1.7 0.4-1.7 0.4-1.7 0.3-1.7 0.4-1.7 0.3-1.8 0.4-1.7 0.4-1.8 0.3-1.8 0.4-1.8 0.4-1.8 0.3-1.9 0.4-1.8 0.4-1.8 0.3-1.9 0.4-1.8 0.3-1.8 0.4-1.9 0.4-1.8 0.3-1.8 0.4-1.9 0.4-1.8 0.3-1.8 0.4-1.8 0.3-1.8 0.4-1.8 0.4-1.8 0.3-1.7 0.4-1.8 0.4-1.7 0.3-1.7 0.4-1.8 0.3-1.7 0.4-1.6 0.4-1.7 0.3-1.7 0.4-1.6 0.4-1.6 0.3-1.6 0.4-1.6 0.4-1.6 0.3-1.5 0.4-1.5 0.3-1.5 0.4-1.5 0.4-1.5 0.3-1.5 0.4-1.4 0.4-1.4 0.3-1.4 0.4-1.4 0.3-1.3 0.4-1.3 0.4-1.4 0.3-1.3 0.4-1.2 0.4-1.3 0.3-1.2 0.4-1.2 0.3-1.2 0.4-1.2 0.4-1.2 0.3-1.1 0.4-1.1"/>
</g>
<text x="44.5" y="513.9" font-size="19.2" text-anchor="middle" fill="#262626">0</text>
<text x="117.1" y="513.9" font-size="19.2" text-anchor="middle" fill="#262626">1</text>
<text x="189.7" y="513.9" font-size="19.2" text-anchor="middle" fill="#262626">2</text>
<text x="262.3" y="513.9" font-size="19.2" text-anchor="middle" fill="#262626">3</text>
<text x="334.9" y="513.9" font-size="19.2" text-anchor="middle" fill="#262626">4</text>
<text x="407.5" y="513.9" font-size="19.2" text-anchor="middle" fill="#262626">5</text>
<text x="36.7" y="500.4" font-size="19.2" text-anchor="end" fill="#262626">0</text>
<text x="36.7" y="454.2" font-size="19.2" text-anchor="end" fill="#262626">0.2</text>
<text x="36.7" y="408.1" font-size="19.2" text-anchor="end" fill="#262626">0.4</text>
<text x="36.7" y="361.9" font-size="19.2" text-anchor="end" fill="#262626">0.6</text>
<text x="36.7" y="315.7" font-size="19.2" text-anchor="end" fill="#262626">0.8</text>
<text x="36.7" y="269.5" font-size="19.2" text-anchor="end" fill="#262626">1</text>
<text x="206.8" y="537.4" font-size="22" font-style="italic" text-anchor="middle" fill="#262626">ω</text>
<text x="207.2" y="536.2" font-size="20" text-anchor="middle" fill="#262626">ˆ</text>
<text transform="translate(11.2 377.5) rotate(-90) scale(1.1 0.95)" font-size="24" font-style="italic" text-anchor="middle" fill="#262626">α</text>
<text x="47" y="285" font-size="18.5">(c)</text>
<text x="235" y="364.2" font-size="18" text-anchor="middle">Mid-frequencies</text>
<text x="232.7" y="383.1" font-size="18" text-anchor="middle">range</text>
<rect x="366.6" y="292" width="1" height="3" fill="#d2d2d2"/>
<path fill="none" stroke="#0000ff" stroke-width="1.3" d="M122.3 189.0L169.2 285.6"/><path fill="#0000ff" d="M173.4 294.3L161.8 282.1L168.7 284.7L171.0 277.7z"/>
<path fill="none" stroke="#ff0000" stroke-width="1.3" d="M392.5 189.0L281.7 449.3"/><path fill="#ff0000" d="M277.9 458.2L279.5 441.5L282.1 448.3L288.9 445.5z"/>
</g>
<g id="map-d">
<g clip-path="url(#cd)" shape-rendering="geometricPrecision">
<rect x="445.5" y="202.5" width="241.1" height="138" fill="#000089"/>
<path fill="#00009b" d="M446.7 203.9l238.7 0 0 135.2-238.7 0 0-135.2zM495.2 270.8l-0.3 0.3 0 0.8 0.3 0.4 0.8 0.5 0.8-0.2 0.5-0.7-0.1-0.8-0.4-0.5-0.8-0.2-0.8 0.4z"/>
<path fill="#0000ad" d="M446.7 203.9l238.7 0 0 135.2-238.7 0 0-135.2zM496 270.2l-0.8 0.3-0.4 0.6-0.1 0.8 0.5 0.7 0.8 0.4 0.8-0.2 0.8-0.9-0.1-0.8-0.7-0.8-0.8-0.1z"/>
<path fill="#0000bf" d="M446.7 203.9l238.7 0 0 135.2-238.7 0 0-135.2zM495.2 270.3l-0.6 0.8-0.1 0.8 0.5 0.8 1 0.4 0.8-0.1 0.5-0.3 0.5-0.8-0.1-0.8-0.2-0.3-0.7-0.7-0.8-0.1-0.8 0.3z"/>
<path fill="#0000d1" d="M446.7 203.9l238.7 0 0 135.2-238.7 0 0-135.2zM495.2 270.1l-0.8 1-0.1 0.8 0.4 0.8 0.5 0.4 0.8 0.2 0.8-0.1 0.7-0.5 0.5-0.8 0-0.8-0.5-0.6-0.7-0.6-0.8-0.1-0.8 0.3z"/>
<path fill="#0000e4" d="M446.7 203.9l238.7 0 0 135.2-238.7 0 0-135.2zM495.2 269.9l-0.6 0.4-0.5 0.8 0 0.8 0.3 0.8 0.8 0.6 0.8 0.3 0.8-0.1 0.7-0.4 0.4-0.4 0.3-0.8 0-0.8-0.5-0.8-0.9-0.5-0.8-0.1-0.8 0.2z"/>
<path fill="#0000f6" d="M446.7 203.9l238.7 0 0 135.2-238.7 0 0-135.2zM496 269.5l-0.8 0.2-0.9 0.6-0.4 0.8-0.1 0.8 0.3 0.8 0.8 0.7 1.1 0.4 0.8 0 0.7-0.4 0.7-0.7 0.3-0.8-0.1-0.8-0.4-0.8-0.5-0.4-0.7-0.3-0.8-0.1z"/>
<path fill="#0009ff" d="M446.7 203.9l238.7 0 0 135.2-238.7 0 0-135.2zM495.2 269.4l-1.2 0.9-0.3 0.8-0.1 0.8 0.2 0.8 0.6 0.8 0.8 0.5 1.6 0.1 0.7-0.3 0.8-0.7 0.5-1.2-0.1-0.8-0.3-0.8-0.9-0.7-0.7-0.3-0.8-0.1-0.8 0.2z"/>
<path fill="#001bff" d="M446.7 203.9l238.7 0 0 135.2-238.7 0 0-135.2zM495.2 269.2l-0.8 0.4-0.7 0.7-0.4 0.8 0 0.8 0.1 0.8 1 1.2 0.8 0.4 1.6 0.1 0.7-0.2 1-0.8 0.5-0.7 0.1-0.8-0.4-1.6-1.2-1-0.7-0.3-1.6 0.2z"/>
<path fill="#002eff" d="M446.7 203.9l238.7 0 0 135.2-238.7 0 0-135.2zM496 268.8l-0.8 0.1-1.2 0.7-0.7 0.7-0.4 1.6 0.2 0.8 0.3 0.7 0.8 0.8 1 0.5 1.6 0.1 1.5-0.6 0.7-0.8 0.4-0.7 0.1-1.6-0.4-0.8-0.8-0.9-0.8-0.4-1.5-0.2z"/>
<path fill="#0040ff" d="M446.7 203.9l238.7 0 0 135.2-238.7 0 0-135.2zM495.2 268.6l-1.5 0.8-0.7 0.9-0.4 0.8 0 1.6 0.9 1.5 0.9 0.7 1.6 0.4 1.5-0.2 1.5-0.9 0.6-0.8 0.4-1.5-0.1-0.8-0.8-1.4-0.8-0.7-1.5-0.5-1.6 0.1zM670.8 271.8l0 0.1 0-0.1z"/>
<path fill="#0052ff" d="M446.7 203.9l238.7 0 0 135.2-238.7 0 0-135.2zM494.4 268.5l-1.3 1.1-0.6 0.7-0.4 1.6 0.3 1.5 0.5 0.8 0.8 0.8 1.5 0.7 1.6 0.1 1.5-0.4 1.4-1.2 0.5-0.8 0.3-1.5-0.4-1.6-1-1.2-1.6-0.8-1.5-0.2-1.6 0.4zM670.8 271.4l-0.2 0.5 0.2 0.1 0.3-0.1-0.3-0.5z"/>
<path fill="#0064ff" d="M446.7 203.9l238.7 0 0 135.2-238.7 0 0-135.2zM495.2 267.9l-1.9 0.9-1.2 1.5-0.4 1.6 0.2 1.5 1 1.7 1.5 1 1.6 0.4 1.5-0.1 1.6-0.7 1.4-1.5 0.5-1.5-0.1-1.6-0.8-1.5-1-1-1.6-0.7-1.5-0.1-0.8 0.1zM670.8 271.1l-0.3 0.8 0.3 0.2 0.5-0.2-0.5-0.8z"/>
<path fill="#0076ff" d="M446.7 203.9l238.7 0 0 135.2-238.7 0 0-135.2zM494.4 267.7l-1.7 1.1-1.1 1.5-0.5 1.6 0 0.8 0.4 1.5 0.6 1 0.8 0.8 1.5 0.9 2.4 0.3 1.5-0.3 0.8-0.4 1.5-1.2 0.8-1.4 0.3-2-0.5-1.6-1.1-1.5-1.8-1.1-2.3-0.3-1.6 0.3zM670.8 271l-0.4 0.9 0.4 0.3 0.7-0.3-0.4-0.8-0.3-0.1z"/>
<path fill="#0089ff" d="M446.7 203.9l238.7 0 0 135.2-238.7 0 0-135.2zM495.2 267l-2.3 1-1.5 1.6-0.4 0.7-0.4 1.6 0.2 2.3 0.6 1.1 0.7 1 1.6 1.1 2.3 0.7 2.3-0.3 1.5-0.7 0.8-0.6 1.2-1.5 0.5-1.6 0.1-1.5-0.2-0.8-0.7-1.5-0.6-0.8-1.1-0.9-2.3-0.9-2.3 0zM670.8 271l-0.3 0.1-0.2 0.8 0.5 0.4 0.9-0.4-0.3-0.8-0.6-0.1z"/>
<path fill="#009bff" d="M446.7 203.9l238.7 0 0 135.2-238.7 0 0-135.2zM496.8 266.5l-2.4 0.3-2.3 1.2-0.7 0.8-1 1.5-0.5 2.4 0.4 2.3 1.1 1.8 0.7 0.7 1.6 1 2.3 0.6 2.3-0.2 2.3-1.1 0.8-0.6 1.1-1.5 0.8-2.3-0.2-2.3-0.7-1.5-0.6-0.8-2-1.5-1.5-0.6-1.5-0.2zM670.8 270.9l-0.4 0.2-0.2 0.8 0.6 0.5 0.7-0.2 0.3-0.3-0.2-0.8-0.8-0.2z"/>
<path fill="#00adff" d="M446.7 203.9l238.7 0 0 135.2-238.7 0 0-135.2zM494.4 266.3l-2.3 1.1-0.8 0.6-1.2 1.6-0.9 2.3-0.1 1.5 0.2 1.6 0.5 1.2 0.8 1.2 0.8 0.9 1.5 1.1 1.5 0.6 1.6 0.3 1.5 0 1.6-0.4 2.3-1.1 0.8-0.7 1.2-1.6 0.8-2.3 0.1-1.5-0.3-1.6-1.2-2.3-0.8-0.8-1.4-1-1.5-0.7-1.6-0.3-1.5 0-1.6 0.3zM670.8 270.8l-0.5 0.3-0.2 0.8 0.7 0.7 0.7-0.2 0.5-0.5-0.3-0.8-0.9-0.3z"/>
<path fill="#00bfff" d="M446.7 203.9l238.7 0 0 135.2-238.7 0 0-135.2zM495.2 265.5l-1.5 0.5-1.6 0.7-1.6 1.3-1.2 1.6-0.7 1.5-0.4 1.6 0 1.5 0.3 1.5 0.6 1.6 1.1 1.5 1.2 1.1 1.5 1 1.5 0.6 1.6 0.2 1.5 0.1 1.6-0.3 1.5-0.5 1.5-1 2-1.9 0.8-1.6 0.5-1.5 0.1-1.6-0.2-1.5-0.5-1.6-0.9-1.5-1-1-1.5-1.2-1.6-0.7-1.5-0.4-1.5-0.1-1.6 0.1zM670.8 270.8l-0.6 0.3-0.2 0.8 0.8 0.8 0.7-0.1 0.6-0.7-0.2-0.8-1.1-0.3z"/>
<path fill="#00d1ff" d="M446.7 203.9l238.7 0 0 135.2-238.7 0 0-135.2zM496 264.9l-2.3 0.5-1.6 0.6-1.5 1.1-1 0.9-1.2 1.6-0.7 1.5-0.4 1.6-0.1 2.3 0.3 1.7 0.8 1.9 0.8 1.2 1.5 1.6 1.5 1 2.3 0.9 2.4 0.3 1.5-0.1 1.5-0.3 1.6-0.6 1.5-0.9 1.6-1.3 1.1-1.6 0.8-1.5 0.5-2.3 0-1.6-0.3-1.5-0.5-1.6-1-1.5-1.4-1.6-1.6-1-2.3-1-2.3-0.4-1.5 0.1zM670.8 270.7l-0.7 0.4-0.2 0.8 0.9 1 0.7 0 0.8-1-0.3-0.8-0.5-0.3-0.7-0.1z"/>
<path fill="#00e4ff" d="M446.7 203.9l238.7 0 0 135.2-238.7 0 0-135.2zM493.7 264.7l-2.2 1-1.7 1.2-1.8 1.9-0.9 1.5-0.6 1.6-0.5 2.3 0.1 2.3 0.6 2.3 0.8 1.8 1.6 1.9 1.5 1.3 2.3 1.3 1.5 0.5 2.4 0.3 2.3-0.2 2.3-0.6 2.3-1.2 1.5-1.2 1.4-1.5 0.9-1.6 0.7-1.5 0.4-2.4-0.1-2.3-0.6-2.3-0.8-1.5-1.1-1.6-1.7-1.5-2.2-1.3-1.5-0.6-2.3-0.4-2.3 0-2.3 0.5zM670.8 270.6l-0.8 0.5-0.3 0.8 0.3 0.7 0.8 0.6 0.7-0.1 0.7-0.4 0.3-0.8-0.3-0.8-0.7-0.4-0.7-0.1z"/>
<path fill="#00f6ff" d="M446.7 203.9l238.7 0 0 135.2-238.7 0 0-135.2zM493.7 264l-2.3 1-2.3 1.5-1.5 1.5-1.6 2.3-0.9 2.4-0.5 2.3 0.1 3.1 0.5 2.3 1.1 2.3 1.8 2.3 1.7 1.4 2.3 1.3 2.3 0.8 2.4 0.3 3-0.2 2.3-0.6 2.4-1.2 2.3-1.7 1.5-1.8 1.3-2.1 0.8-2.4 0.3-2.3-0.1-2.3-0.6-2.3-1.2-2.3-1.1-1.6-1.6-1.5-2.4-1.6-2.3-0.9-2.3-0.5-3.1 0.1-2.3 0.4zM670 271l-0.5 0.9 0.5 1.2 0.8 0.3 0.7 0 1.1-0.7 0.2-0.8-0.5-0.8-0.8-0.5-0.7-0.1-0.8 0.5z"/>
<path fill="#09fff6" d="M446.7 203.9l238.7 0 0 135.2-238.7 0 0-135.2zM493.7 263.3l-2.3 0.9-2.5 1.5-2.5 2.3-1.6 2.3-1.1 2.4-0.8 3-0.1 3.1 0.5 3.1 1.1 3 1.6 2.4 2.3 2.3 2.3 1.4 2.3 1 3.1 0.6 3.1 0 3-0.6 3.1-1.2 2.3-1.5 2.3-2.3 1.6-2.2 1.3-2.9 0.5-2.3 0.1-3.1-0.6-3.1-1.3-3.1-1.6-2.3-2.3-2.1-2.3-1.4-2.6-1.1-2.8-0.6-3 0-3.1 0.5zM670 270.9l-0.3 0.2-0.3 0.8 0 0.8 0.6 0.8 0.8 0.4 0.7 0 0.9-0.5 0.6-0.7 0-0.8-0.3-0.8-1.2-0.6-0.7 0-0.8 0.4z"/>
<path fill="#1bffe4" d="M446.7 203.9l238.7 0 0 135.2-238.7 0 0-135.2zM493.7 262.6l-3.1 1.2-3 1.9-2.5 2.3-2.1 3.1-1.4 3.1-1 3.9-0.1 3.8 0.4 3.1 1 3.1 1.7 3.1 2.4 2.6 2.3 1.8 3.1 1.5 3.8 0.9 3.9 0.1 3-0.5 3.9-1.4 3.1-1.8 2.3-2 2.3-2.8 1.6-3 1.2-3.9 0.2-3.9-0.4-3.1-1.4-3.8-2-3.1-2.2-2.3-3.2-2.3-3-1.3-3.9-0.9-3.8 0-3.1 0.6zM670 270.8l-0.5 0.3-0.4 0.8 0 0.8 0.3 0.7 0.6 0.7 0.8 0.3 0.7 0 0.8-0.2 0.8-0.7 0.3-0.8 0-0.8-0.4-0.8-1.5-0.7-0.7 0-0.8 0.4z"/>
<path fill="#2effd1" d="M446.7 203.9l238.7 0 0 135.2-238.7 0 0-135.2zM498.3 261.1l-3.9 0.5-3.8 1.3-3.5 2-1.9 1.6-1.5 1.5-2.4 3.1-2 3.9-1.5 4.6-0.7 4.6 0 4.7 0.8 3.8 1.6 3.9 1.9 2.8 1.5 1.7 1.5 1.3 3.1 1.8 3.9 1.5 3.8 0.6 4.6-0.1 4.7-1 2.3-0.9 2.3-1.1 3.8-2.7 1.7-1.6 2-2.3 2.4-3.9 1.4-3.8 0.6-2.3 0.2-2.4 0-2.3-0.2-2.3-0.5-2.3-0.7-2.3-2-3.9-1.7-2.3-1.5-1.5-1.8-1.6-2.2-1.5-3.8-1.9-3.9-1-2.3-0.2-2.3 0zM670.8 270.3l-1.4 0.8-0.5 0.8-0.2 0.8 0.2 0.7 0.3 0.7 0.8 0.7 1.5 0.4 0.8-0.2 0.8-0.4 0.7-1.1 0.2-0.8-0.2-0.8-0.4-0.8-1.1-0.7-0.8-0.1-0.7 0z"/>
<path fill="#40ffbf" d="M446.7 203.9l238.7 0 0 135.2-238.7 0 0-135.2zM497.5 260.2l-4.6 1-2.3 0.9-2.7 1.3-2.3 1.5-1.9 1.6-3.7 3.8-3.1 4.7-3 6.2-2.4 6.9-1 3.9-0.7 3.8-0.4 4.7 0.1 2.3 0.3 2.3 0.7 2.3 0.6 1.6 1.8 2.7 2.5 2.7 3.6 2.4 2.4 1.1 2.3 0.9 4.6 1.1 3.1 0.3 3 0 3.1-0.2 3.9-0.7 3.1-0.8 3-1.2 3.1-1.5 3.1-1.9 3.1-2.4 2.3-2.2 2.2-2.6 1.6-2.4 1.6-2.7 1.2-2.7 1-3.1 0.6-3.1 0.4-3.8-0.1-3.1-0.4-3.1-0.8-3.1-0.8-2.3-1.5-3.1-2-3.1-2-2.3-2.4-2.3-2-1.6-2.5-1.5-3.3-1.6-3.1-0.9-3.1-0.6-3.1-0.2-3.1 0.1zM670.8 270.2l-1.7 0.9-0.5 0.8-0.3 1.5 0.2 0.8 0.7 1.2 0.8 0.5 0.8 0.3 1.5 0 0.8-0.3 1.1-0.9 0.4-0.9 0.1-1.4-0.2-0.8-0.6-0.8-0.8-0.5-0.8-0.3-1.5-0.1z"/>
<path fill="#52ffad" d="M446.7 203.9l238.7 0 0 135.2-173.2 0 3.8-2.4 3.9-3 3-2.7 3.3-3.5 2.9-3.6 2.3-3.6 2.3-4.4 1.6-3.8 1.1-3.9 0.8-3.9 0.5-4.6 0-3.9-0.4-4.6-0.8-3.9-1.3-3.8-1.6-3.9-1.7-3.1-1.5-2.3-1.8-2.3-2.1-2.3-4.5-3.9-4.5-2.8-2.3-1.1-3-1.1-5.4-1.3-5.4-0.4-5.4 0.6-3.9 1-3.8 1.6-3.3 2-4 3.1-3.1 3-2.6 3.1-10.1 13.5-3.1 3.3-3.1 2.5-3.1 1.9-3 1.1-3.1 0.4-3.1-0.3 0-91.9zM670.8 270.1l-2 1-0.6 0.8-0.6 1.5 0.1 1.6 0.8 1.4 1.5 1.2 1.5 0.4 1.6-0.2 1.5-0.9 0.9-1.2 0.5-1.5-0.3-1.5-1.1-1.6-1.2-0.8-1.1-0.2-1.5 0z"/>
<path fill="#64ff9b" d="M446.7 203.9l238.7 0 0 135.2-132.1 0 1.6-6.2 1.1-6.9 0.3-6.2-0.3-7-0.9-6.9-1.5-6.2-2.1-6.2-2.5-5.4-3-5.4-3.9-5.4-4.1-4.6-4.3-3.9-4.2-3.1-5.3-3.1-5.5-2.3-5.4-1.5-5.8-0.9-6.1 0-3.1 0.3-3.1 0.6-5.4 1.8-2.7 1.2-2.8 1.6-4.5 3.1-3.6 3.1-10.2 9.5-3.1 2.4-2.3 1.6-3.1 1.5-3.9 1.3-3 0.4-3.9-0.2 0-82.2zM670 270.3l-1.5 0.8-0.8 0.8-1 1.5-0.2 0.8-0.2 1.5 0.6 2.2 0.8 1.1 0.8 0.8 1.5 0.9 2.3 0.4 2.3-0.5 1.6-1 0.7-0.9 0.8-1.4 0.3-1.6-0.1-1.5-0.3-0.8-0.9-1.5-0.8-0.8-1.4-0.8-2.2-0.4-1.5 0.1-0.8 0.3z"/>
<path fill="#76ff89" d="M446.7 203.9l238.7 0 0 135.2-85 0-2.3-6.2-3.3-6.9-3.7-7-4.3-6.9-5.2-7.8-5.1-6.9-5.7-7-5.6-6.2-4.7-4.6-5.3-4.6-5-3.9-5.8-3.8-5.4-3.1-5-2.4-5.7-2.1-5.4-1.6-7.7-1.4-3.8-0.4-3.9 0-6.9 0.5-3.8 0.7-3.1 0.8-5.5 2-6 3.1-4.8 3.1-11.4 8.2-5.4 3-3.9 1.5-3.1 0.8-3 0.3-3.9-0.1 0-76.3zM670 270.2l-2 0.9-1 0.8-1.5 1.5-0.9 1.6-0.7 1.5-0.3 1.6 0 2.3 0.3 1.5 0.5 1.6 1 1.6 1.5 1.7 1.6 1 1.5 0.7 1.5 0.3 2.3 0 1.6-0.3 1.5-0.5 1.6-0.9 1.5-1.4 1.1-1.5 0.8-1.5 0.7-2.3 0-2.3-0.3-1.6-0.6-1.5-1-1.6-1.4-1.5-1.6-1.1-1.5-0.7-2.4-0.4-2.3 0.1-1.5 0.4z"/>
<path fill="#89ff76" d="M446.7 203.9l238.7 0 0 67.2-1.9-0.8-2.7-0.7-3.9-0.5-3.8 0.2-3.9 1-3.5 1.6-3.6 2.3-3.7 3.1-8.4 7.9-3.1 2.3-3.1 1.8-3.8 1.6-3.9 0.9-3.8 0.4-4.7-0.2-3.8-0.5-4.6-1.1-4.6-1.5-4.7-1.9-8.4-3.9-20-10.4-8.5-4.2-9.9-4.3-9.4-3.5-10-3-10-2.1-10-1.2-9.2-0.3-6.2 0.4-5.4 0.7-4.6 0.9-5.4 1.5-5.2 1.9-5 2.3-15.2 8.6-6.2 3-3.8 1.3-3.9 0.8-3.8 0.3-3.1-0.2 0-71.7z"/>
<path fill="#9bff64" d="M446.7 203.9l238.7 0 0 60.7-11.6 4.2-5.3 1.6-3.1 0.7-3.9 0.6-3.1 0.3-6.1-0.2-5.4-0.8-5.4-1.4-6.7-2.3-14.9-5.8-7.7-2.7-10-2.9-10-2.2-13.1-2.2-13.8-1.4-13.9-0.6-13.8 0-9.3 0.5-9.2 0.9-9.3 1.4-6.9 1.5-8.5 2.3-6.1 2.2-7.7 3.3-12.3 5.7-6.2 2.4-3.8 1.1-3.9 0.8-3.8 0.3-3.9-0.1 0-67.9z"/>
<path fill="#adff52" d="M446.7 203.9l223 0-5.9 6.3-3.8 3.5-3.1 2.1-3.8 1.7-3.1 0.7-3.1 0.3-17.7 0.6-11.6 1.1-12.3 2-13.1 3-10.8 2.8-11.5 3.4-60.1 18.4-15.4 5.2-21.5 8.1-6.9 2.3-4.7 1.2-3.8 0.8-3.9 0.5-3.8 0.2-3.1-0.1 0-64.1zM660.7 237.1l2.4-0.7 1.5 0 1.5 0.2 2.4 0.8 3 1.8 2.3 2 2.4 2.7 1.9 3.3 1.1 2.9 0.8 3.2 0.1 3.1-0.4 3.1-0.8 2.3-1.2 2.4-1.8 2.3-1.9 1.5-1.2 0.8-1.9 0.8-2.4 0.5-2.4 0.1-2.3-0.4-2.7-1-2.3-1.5-2.3-2.4-1.4-2.3-1.3-3.1-0.6-3.1-0.2-3.1 0.3-3.8 0.7-3.1 1.4-3.4 1.5-2.6 1.5-1.7 2.3-1.6z"/>
<path fill="#bfff40" d="M446.7 203.9l122.6 0-6.1 6.2-5.9 5.4-6.3 5.4-7 5.4-7.5 5.4-7.2 4.6-7.9 4.7-7.2 3.8-9.6 4.7-9.1 3.8-9.5 3.6-8.5 2.8-7.7 2.1-6.9 1.5-7 0.9-6.1 0.3-3.1-0.1 0-60.5zM665.5 258l2.2-0.7 2.3 0.2 2.3 1.1 1.6 1.7 1 2.3-0.1 2.3-0.5 1.6-0.5 0.8-1.6 1.5-1.4 0.7-1.6 0.4-2.3-0.2-2.1-0.9-1-0.8-1.2-1.5-0.6-2.3 0.2-2.4 0.7-1.5 0.6-0.8 1.1-1 0.9-0.5z"/>
<path fill="#d1ff2e" d="M446.7 203.9l95.9 0-3.4 7-3.7 6.1-4.3 6.2-4.4 5.4-5.2 5.4-5.1 4.7-6 4.6-5.8 3.9-5.6 3.1-6.6 3-6.5 2.5-6.2 1.8-6.9 1.5-6.9 1.1-7.7 0.6-8.5 0.3-3.1 0 0-57.2zM667.4 261.8l1.8-0.3 1.6 0.4 1.5 1.1 0.8 1.2 0.3 1.5-0.4 1.6-0.4 0.7-0.8 0.8-1 0.6-1.6 0.3-1.5-0.2-1.4-0.7-1.3-1.5-0.3-1.6 0.3-1.5 1.1-1.6 1.3-0.8z"/>
<path fill="#e4ff1b" d="M446.7 203.9l79.5 0-0.8 5.4-1.5 6.2-1.9 5.4-2.6 5.4-2.7 4.6-3.3 4.7-4 4.6-4.2 3.9-4 3.1-4.9 3.1-4.9 2.4-5.4 2-5.4 1.4-5.4 1-6.2 0.5-7.7 0.2-14.6 0 0-53.9zM667.4 264.2l1.1-0.5 0.7-0.2 1.6 0.4 0.7 0.5 0.8 1.1 0.2 1-0.4 1.5-0.6 0.8-1.5 0.7-0.8 0.1-0.7-0.2-1.3-0.6-0.7-0.8-0.4-1.5 0.1-0.8 0.4-0.8 0.8-0.7z"/>
<path fill="#f6ff09" d="M446.7 203.9l66.9 0 0.8 6.2 0.1 3.8-0.1 3.1-0.5 3.9-0.6 3.1-0.9 3.1-1.1 3.1-1.8 3.8-2.3 3.9-2.3 3.1-2.9 3.1-3.5 3.1-3.4 2.3-3 1.6-3.8 1.7-3.1 1.1-3.8 0.9-3.1 0.5-3.9 0.3-6.1 0-13.9-1-7.7-0.1 0-50.6zM668.5 264.9l1.5-0.1 0.8 0.3 0.7 0.6 0.4 0.8 0.1 0.8-0.2 0.7-0.5 0.8-1.3 0.6-0.8 0-1.4-0.6-0.6-0.8-0.2-0.7 0.1-0.8 0.6-1 0.8-0.6z"/>
<path fill="#fff600" d="M446.7 203.9l55.4 0 2.3 4.6 1.7 4.7 1 4.6 0.4 4.6-0.3 4.7-0.9 4.6-1.7 4.6-2.1 3.9-1.7 2.3-2.1 2.3-2.5 2.4-2.1 1.5-2.5 1.6-2.5 1.2-3.1 1.1-3.1 0.8-4.6 0.6-5.4 0-5.4-0.6-13.1-2.2-3.8-0.3-3.9 0.1 0-47.1zM668.8 265.7l1.2-0.2 0.8 0.4 0.5 0.6 0.3 0.8-0.1 0.7-0.5 0.8-1 0.5-0.8 0-1-0.5-0.5-0.8-0.1-0.7 0.2-0.8 1-0.8z"/>
<path fill="#ffe400" d="M446.7 203.9l42.7 0 0.4 0.3 2.3 2 2.3 2.3 2 2.4 1.7 2.3 2.5 4.8 1.1 2.9 0.6 2.3 0.3 2.3 0.2 3.1-0.1 3.1-0.4 2.3-0.7 2.3-0.9 2.4-1.2 2.3-1.5 2.3-2.1 2.3-1.7 1.6-2.1 1.5-2.3 1.3-2.3 1.1-2.3 0.7-2.3 0.5-3.1 0.4-4.6-0.1-4.6-0.7-3.7-0.9-8.6-2.6-3.9-0.9-3.8-0.4-3.9 0.1 0-43.3zM668.6 266.5l0.6-0.4 0.8 0 0.8 0.4 0.5 0.8 0.1 0.7-0.6 0.8-0.8 0.4-0.8 0-0.7-0.4-0.5-0.8 0-0.7 0.6-0.8z"/>
<path fill="#ffd100" d="M446.7 206.2l0-0.6 13.9 0 6.9 0.3 5.4 0.8 4.6 1 4.6 1.7 3.9 1.9 3.8 2.5 3.5 3.2 2.7 3.6 2.1 4.2 1.1 3.8 0.3 2.3 0 2.4-0.6 3.8-1.4 3.9-2 3.1-1.3 1.5-1.7 1.6-1.9 1.3-2.3 1.3-2.3 0.8-2.3 0.6-2.3 0.4-3.1 0-4.4-0.6-4.1-1.2-4.5-1.9-7-3.4-3.9-1.4-3.8-0.7-3.9 0.2 0-36.4zM668.4 267.3l0.8-0.8 0.8 0 0.8 0.4 0.4 1.1-0.6 0.8-0.6 0.3-0.8-0.1-0.4-0.2-0.5-0.8 0.1-0.7z"/>
<path fill="#ffbf00" d="M466.9 215.5l4.4-0.5 3.9 0.1 3.8 0.5 3.1 0.8 3.1 1.3 3.1 1.7 2.8 2.3 2.1 2.3 2 3.1 1.2 3.1 0.6 3.1 0 3-0.7 3.1-1.3 3.1-1.7 2.3-2.4 2.4-3.4 1.9-3.8 1.2-3.9 0.3-2.3-0.2-2.3-0.5-3.5-1.2-4.3-2.3-4.2-3.1-6.5-5.5-3.1-2.1-1.5-0.7-2.3-0.5-1.6 0.2-1.5 0.4 0-15.8 3.1 0.3 3.1-0.4 9.2-2.6 4.8-1.1zM668.8 267.3l0.4-0.4 0.8-0.2 0.7 0.6 0.3 0.7-0.5 0.8-0.5 0.3-0.8-0.2-0.7-0.9 0.3-0.7z"/>
<path fill="#ffad00" d="M472 221.7l2.4-0.5 3.1-0.3 3.1 0.3 3.1 0.8 3 1.3 2.4 1.5 2.3 2.2 1.2 1.6 1.3 2.3 0.8 2.4 0.4 2.3-0.2 3.1-0.7 2.3-1.1 2.3-1.9 2.3-1.8 1.6-2.7 1.4-3 0.9-3.1 0.2-3.9-0.6-3.1-1.2-3.7-2.3-2.5-2.3-2.4-3.1-1.7-3.1-0.8-2.3-0.3-3.1 0.4-2.3 1.2-2.3 2.2-2.3 3-2 3-1.1zM669.1 267.3l0.9-0.3 0.4 0.3 0.4 0.7-0.5 0.8-0.3 0.2-0.8-0.2-0.5-0.8 0.4-0.7z"/>
<path fill="#ff9b00" d="M475.8 225.5l2.5-0.4 2.3 0 2.3 0.3 2.3 0.8 2.3 1.1 1.6 1.2 1.6 1.7 1.4 2.1 0.8 1.8 0.5 2.2 0 2.4-0.5 2.3-1 2.3-1.2 1.5-1.6 1.6-1.6 1-2.3 0.9-2.3 0.5-2.3 0-3.1-0.6-2.6-1-2.3-1.6-2.3-2.3-1.5-2.3-1-2.3-0.5-2.4 0.1-2.3 0.7-2.3 1.4-2.3 1.6-1.6 1.8-1.1 2.9-1.2zM670 267.3l0.7 0.7-0.7 0.9-0.8-0.3-0.4-0.6 0.4-0.6 0.8-0.1z"/>
<path fill="#ff8900" d="M477.1 228.6l1.9-0.4 2.4-0.1 2.3 0.3 1.5 0.5 1.5 0.7 1.8 1.3 1.3 1.3 1.2 1.8 0.7 1.6 0.3 1.5 0.1 2.3-0.3 1.6-0.6 1.5-1.4 2-1.5 1.5-1.6 0.9-1.5 0.7-2.3 0.4-2.3 0-2.3-0.5-2.3-1.1-1.6-1.1-1.9-2-1-1.5-0.6-1.6-0.5-2.3 0.2-2.3 0.4-1.6 0.8-1.5 1.3-1.6 2.1-1.5 1.9-0.8zM669 268l0.2-0.3 0.8-0.4 0.6 0.7-0.6 0.8-0.8-0.4-0.2-0.4z"/>
<path fill="#ff7600" d="M478.1 230.9l1.7-0.4 1.6-0.2 1.5 0.1 1.5 0.4 1.6 0.6 1.5 1 1.6 1.4 0.7 1.2 0.7 1.3 0.4 1.6 0.1 1.5-0.3 1.6-0.5 1.5-1 1.6-0.9 0.9-1.6 1.2-1.5 0.7-1.5 0.3-1.6 0.2-2.3-0.3-1.5-0.6-1.7-0.9-1.8-1.5-1.1-1.6-0.7-1.5-0.4-2.3 0.1-1.6 0.4-1.5 0.9-1.6 1.2-1.4 1.5-1.1 1.4-0.6zM669.1 268l0.9-0.6 0.6 0.6-0.6 0.7-0.9-0.7z"/>
<path fill="#ff6400" d="M479.5 232.5l2.6-0.4 1.6 0.2 1.5 0.5 2.3 1.4 1.7 2.1 0.7 2.4 0.1 1.5-0.4 1.6-0.7 1.5-0.6 0.8-0.8 0.7-1.5 1.1-1.6 0.5-1.5 0.3-1.5-0.1-1.6-0.3-1.6-0.7-1.5-1.1-1.1-1.2-0.8-1.5-0.4-1.6-0.1-1.5 0.6-2.4 1-1.5 0.8-0.8 1.6-1 1.2-0.5zM669.3 268l0.7-0.5 0.5 0.5-0.5 0.6-0.7-0.6z"/>
<path fill="#ff5200" d="M479.6 234l2.5-0.5 2.3 0.4 2.3 1.2 0.8 0.7 0.9 1.3 0.7 2.3-0.2 2.4-0.8 1.5-0.6 0.7-1.5 1.2-2.3 0.8-1.6 0.1-1.5-0.3-2.3-1.1-0.8-0.6-1.2-1.6-0.7-2.3 0.1-1.5 0.3-1 0.7-1.4 0.6-0.7 1-0.9 1.3-0.7zM669.4 268l0.6-0.4 0.4 0.4-0.4 0.5-0.6-0.5z"/>
<path fill="#ff4000" d="M481.3 234.8l1.6-0.1 2.3 0.6 1.5 1.1 0.8 0.9 0.7 1.4 0.2 1.5-0.1 0.8-0.5 1.5-1.2 1.6-1.1 0.7-1.1 0.5-2.3 0.2-2.3-0.6-1.2-0.8-0.7-0.8-0.9-1.5-0.3-2.4 0.2-0.7 0.6-1.4 1.5-1.6 0.8-0.4 1.5-0.5zM669.5 268l0.5-0.3 0.3 0.3-0.3 0.4-0.5-0.4z"/>
<path fill="#ff2e00" d="M480 236.3l1.4-0.5 2.3-0.1 1.5 0.6 1.5 1.3 0.9 1.8 0.1 1.6-0.5 1.5-1.2 1.5-1.6 0.8-2.3 0.2-1.5-0.4-1-0.5-0.9-0.8-0.9-1.5-0.1-0.8 0-1.6 0.6-1.5 0.7-0.9 1-0.7zM669.6 268l0.4-0.2 0.2 0.2-0.2 0.3-0.4-0.3z"/>
<path fill="#ff1b00" d="M480.3 237.1l1.8-0.6 1.6 0 1.5 0.6 0.9 0.8 0.9 1.5 0.2 1.6-0.6 1.5-0.6 0.9-1.6 1-1.5 0.2-1.5-0.2-1.9-1.1-0.9-1.5-0.2-1.6 0.4-1.5 0.6-0.8 0.9-0.8zM669.7 268l0.3-0.2 0.2 0.2-0.2 0.2-0.3-0.2z"/>
<path fill="#ff0900" d="M482.5 237.1l1.2 0.1 1.5 0.7 0.8 0.8 0.7 1.5-0.2 1.6-0.4 0.7-0.9 1-1.5 0.7-1.6 0-1.5-0.7-1-1-0.6-1.5 0.2-1.6 0.6-1 1.6-1.1 1.1-0.2zM669.9 268l0.2 0-0.2 0z"/>
<path fill="#f60000" d="M481.6 237.9l1.3-0.3 1.5 0.4 0.8 0.5 0.7 0.9 0.3 0.8-0.1 1.6-0.4 0.7-1.3 1-1.5 0.4-1.5-0.4-1.3-1-0.4-0.7-0.1-1.6 0.2-0.8 0.8-0.9 1-0.6zz"/>
<path fill="#e40000" d="M481.2 238.7l0.9-0.5 1.6 0 0.7 0.3 0.8 0.6 0.6 1.1 0.1 0.8-0.2 0.8-0.5 0.8-0.8 0.6-1.5 0.4-1.5-0.5-0.8-0.6-0.4-0.7-0.1-1.6 0.3-0.8 0.8-0.7z"/>
<path fill="#d10000" d="M482.1 238.7l0.8-0.2 0.8 0.1 0.7 0.3 0.8 0.9 0.3 1.2-0.1 0.8-1 1.1-0.7 0.3-1.6 0-1-0.7-0.5-0.7-0.2-0.8 0.1-0.8 0.4-0.8 1.2-0.7z"/>
<path fill="#bf0000" d="M481.4 239.4l0.7-0.4 0.8-0.2 0.8 0.1 0.7 0.4 0.7 0.9 0.1 0.8-0.1 0.8-0.7 0.7-0.7 0.5-0.8 0-1.3-0.5-0.7-0.7-0.2-0.8 0.2-0.8 0.5-0.8z"/>
<path fill="#ad0000" d="M482 239.4l0.9-0.3 0.8 0.1 0.7 0.5 0.4 0.5 0.2 0.8-0.2 0.8-0.4 0.4-0.7 0.5-0.8 0.1-0.8-0.2-0.7-0.7-0.4-0.9 0.2-0.8 0.8-0.8z"/>
<path fill="#9b0000" d="M482.8 239.4l0.9 0.1 0.7 0.6 0.4 0.9-0.4 0.9-0.7 0.5-0.8 0.2-0.8-0.2-0.6-0.6-0.2-0.8 0.2-0.8 0.6-0.6 0.7-0.2z"/>
<path fill="#890000" d="M481.8 240.2l0.3-0.3 0.8-0.2 0.8 0.1 0.5 0.4 0.3 0.8-0.3 0.8-0.5 0.4-0.8 0.1-0.8-0.2-0.4-0.3-0.1-0.8 0.2-0.8z"/>
<path fill="none" stroke="#d8d42a" stroke-width="0.9" d="M497.5 261.1l-2.3 0.3-1.8 0.4-2 0.8-1.8 0.8-1.4 0.8-2.1 1.5-1.7 1.6-1.5 1.5-1.1 1.5-1.5 2.4-1.7 3.8-0.8 2.3-0.5 2.4-0.4 2.3-0.1 2.3 0 2.3 0.2 2.3 0.5 2.3 0.5 1.6 1.4 3.1 1 1.5 1.2 1.6 1.3 1.3 1.5 1.2 1.6 1 2.3 1.2 1.5 0.6 2.3 0.6 3.9 0.5 2.3-0.1 2.3-0.2 2.3-0.5 2.3-0.7 2.3-0.9 2.3-1.2 2.4-1.6 1.5-1.3 1.5-1.5 1.6-1.9 1.3-1.9 1.3-2.4 0.6-1.5 0.8-2.3 0.5-2.3 0.2-2.4 0-2.3-0.2-2.3-0.6-2.3-0.7-2.3-1.1-2.3-0.9-1.6-1.8-2.3-1.4-1.5-1.8-1.6-2.2-1.5-1.7-1-2.3-0.9-2.3-0.7-2.4-0.4-2.3-0.2-2.3 0.1M670.8 270.3l-1.4 0.8-0.5 0.8-0.2 0.8 0.1 0.7 0.4 0.8 0.8 0.7 0.8 0.3 0.7 0 0.8-0.1 0.8-0.5 0.4-0.4 0.3-0.6 0.2-0.9-0.1-0.8-0.5-0.8-1.1-0.6-0.8-0.2-0.7 0"/>
<path fill="none" stroke="#d8d42a" stroke-width="0.9" d="M495.2 265.6l-2.3 0.7-1.5 1-0.9 0.7-1.2 1.6-0.7 1.5-0.3 1.6-0.1 1.5 0.3 1.5 0.6 1.6 1.1 1.5 1.2 1.1 1.5 1 1.5 0.5 1.6 0.3 1.5 0 1.6-0.2 1.5-0.6 1.5-0.9 0.8-0.6 1.1-1.3 0.9-1.6 0.4-1.5 0.2-1.6-0.2-1.5-0.5-1.6-1-1.5-0.9-1-1.5-1.2-1.6-0.7-1.5-0.4-1.5-0.1-1.6 0.2M670.8 270.9l-0.5 0.2-0.3 0.8 0.8 0.8 0.7-0.1 0.6-0.7-0.3-0.8-0.3-0.1-0.7-0.1"/>
<path fill="none" stroke="#d9431e" stroke-width="1.0" d="M685.4 263.7l-4.3 2-5.4 2.3-5.7 2-3.9 0.9-3.8 0.5-3.9 0.1-3-0.2-2.3-0.3-3-0.7-2.8-0.7-3.5-1.2-4.6-1.9-14.6-6.6-8.5-3.3-7.7-2.3-7.7-1.9-6.2-1.2-6.1-0.9-6.2-0.7-6.9-0.7-6.9-0.4-7.7-0.2-7.7-0.1-7.7 0.1-10.8 0.6-10.8 1-10 1.4-9.2 1.9-8.5 2.3-7.1 2.5-7.5 3.1-13.1 6-6.2 2.3-3.8 1.1-3.9 0.7-3.8 0.3-3.9-0.1"/>
<path stroke="#222" stroke-opacity="0.5" stroke-width="0.6" d="M449.5 271.5H682.6"/>
</g>
<path fill="#fff" d="M446.5 203.5H685.6V339.5H446.5zM449.5 206.5H682.6V336.5H449.5z" fill-rule="evenodd"/>
<text x="446.2" y="210.2" font-size="11.4" text-anchor="end" fill="#262626">1.5</text>
<text x="446.2" y="231.9" font-size="11.4" text-anchor="end" fill="#262626">1</text>
<text x="446.2" y="253.5" font-size="11.4" text-anchor="end" fill="#262626">0.5</text>
<text x="446.2" y="275.2" font-size="11.4" text-anchor="end" fill="#262626">0</text>
<text x="446.2" y="296.9" font-size="11.4" text-anchor="end" fill="#262626">-0.5</text>
<text x="446.2" y="318.5" font-size="11.4" text-anchor="end" fill="#262626">-1</text>
<text x="446.2" y="340.2" font-size="11.4" text-anchor="end" fill="#262626">-1.5</text>
<text x="496.1" y="349.5" font-size="11.4" text-anchor="middle" fill="#262626">1</text>
<text x="542.7" y="349.5" font-size="11.4" text-anchor="middle" fill="#262626">2</text>
<text x="589.4" y="349.5" font-size="11.4" text-anchor="middle" fill="#262626">3</text>
<text x="636.0" y="349.5" font-size="11.4" text-anchor="middle" fill="#262626">4</text>
<text x="682.6" y="349.5" font-size="11.4" text-anchor="middle" fill="#262626">5</text>
<text x="566" y="361.0" font-size="11.5" font-style="italic" text-anchor="middle" fill="#555">ω<tspan font-size="8" dy="2">r</tspan></text>
<text transform="translate(423.6 271.5) rotate(-90)" font-size="11.5" font-style="italic" text-anchor="middle" fill="#555">ω<tspan font-size="8" dy="2">i</tspan></text>
</g>
<g id="map-e">
<g clip-path="url(#ce)" shape-rendering="geometricPrecision">
<rect x="445.5" y="370.5" width="241.1" height="139.1" fill="#000089"/>
<path fill="#00009b" d="M446.7 371.9l238.7 0 0 24.8-1.5-0.1-1.6 0.5-1.3 1.3-0.4 1.5 0.3 1.6 0.5 0.8 0.9 0.7 1.6 0.5 1.5-0.1 0 104.8-238.7 0 0-136.3zM495.2 438.5l-0.9 1.2-0.1 0.7 0.2 0.6 0.8 0.8 0.8 0.3 0.8-0.1 0.7-0.3 0.5-0.5 0.3-0.8-0.1-0.7-0.4-0.8-1-0.5-1.6 0.1z"/>
<path fill="#0000ad" d="M446.7 371.9l238.7 0 0 24.3-1.5-0.1-0.8 0.1-1.6 0.9-0.9 1.3-0.4 1.5 0.3 1.6 0.5 0.8 0.8 0.7 1.3 0.7 1.5 0.1 0.8-0.1 0 104.5-238.7 0 0-136.3zM496 438.1l-0.8 0.2-0.7 0.6-0.5 0.8 0 0.7 0.4 1 0.8 0.7 0.8 0.2 0.8 0 0.7-0.3 0.8-0.8 0.3-0.8-0.1-0.7-0.4-0.8-0.6-0.5-0.7-0.3-0.8 0z"/>
<path fill="#0000bf" d="M446.7 371.9l238.7 0 0 23.7-1.5-0.1-0.8 0.2-1.6 0.8-0.7 0.7-0.7 1.2-0.3 1.5 0.3 1.6 0.5 0.8 0.9 1 1.6 0.7 0.8 0.2 1.5-0.1 0 104.1-238.7 0 0-136.3zM495.2 438.1l-1 0.8-0.4 0.8 0 0.7 0.2 0.8 0.4 0.6 0.8 0.6 1.6 0.2 0.7-0.3 1.2-1.1 0.2-0.8-0.1-0.7-0.4-0.8-0.9-0.8-0.7-0.3-0.8 0-0.8 0.3z"/>
<path fill="#0000d1" d="M446.7 371.9l238.7 0 0 23-2.3 0.2-1.9 0.9-1.3 1.6-0.3 0.8-0.2 1.5 0.3 1.6 0.4 0.8 1.4 1.4 1.6 0.7 2.3 0.2 0 103.6-238.7 0 0-136.3zM495.2 437.8l-1.3 1.1-0.3 0.8-0.1 0.7 0.2 0.8 0.7 1 0.8 0.5 0.8 0.2 1.5-0.2 1-0.7 0.5-0.8 0.2-0.8 0-0.7-0.4-0.8-1.3-1.1-1.5-0.2-0.8 0.2z"/>
<path fill="#0000e4" d="M446.7 371.9l238.7 0 0 22.2-2.3 0.2-1.6 0.7-0.7 0.5-0.8 0.8-0.7 1.3-0.3 0.8-0.1 1.5 0.1 0.8 0.6 1.6 1.4 1.5 2.1 1.1 2.3 0.1 0 103.2-238.7 0 0-136.3zM494.4 438l-0.8 0.9-0.3 0.8-0.1 0.7 0.5 1.4 0.7 0.8 0.8 0.5 1.6 0.2 1.4-0.5 0.9-0.8 0.4-0.8 0.1-1.5-0.4-0.8-0.6-0.8-1.1-0.6-0.7-0.2-1.6 0.2-0.8 0.5z"/>
<path fill="#0000f6" d="M446.7 371.9l238.7 0 0 21.3-2.3 0.3-2.3 1.1-0.8 0.7-1.1 1.5-0.6 2.3 0.4 2.4 0.9 1.5 0.7 0.8 2 1.3 1.6 0.4 1.5 0 0 102.7-238.7 0 0-136.3zM495.2 437.3l-1.3 0.8-0.6 0.8-0.4 1.5 0.5 1.6 1 1.1 0.8 0.4 1.6 0.2 1.5-0.4 0.8-0.6 0.5-0.7 0.4-0.8 0-1.5-0.3-0.8-0.6-0.9-1.6-0.8-1.5-0.2-0.8 0.3z"/>
<path fill="#0009ff" d="M446.7 371.9l238.7 0 0 20.3-1.5 0.1-1.6 0.4-2.3 1.4-1 1.2-0.8 1.5-0.5 2.3 0.5 2.4 0.8 1.5 1 1.2 2.3 1.4 1.6 0.4 1.5 0.1 0 102.1-238.7 0 0-136.3zM494.4 437.3l-0.9 0.8-0.8 1.6 0 1.5 0.8 1.6 0.9 0.8 1.6 0.6 1.5-0.1 1.6-0.7 0.7-0.7 0.7-1.5 0-1.5-0.8-1.6-0.9-0.8-1.3-0.5-1.5-0.1-1.6 0.6z"/>
<path fill="#001bff" d="M446.7 371.9l238.7 0 0 19-1.5 0.2-1.6 0.4-1.5 0.8-1.6 1.3-0.7 0.9-0.9 1.5-0.4 1.6-0.1 1.5 0.2 1.6 0.6 1.6 1.1 1.5 0.8 0.8 1 0.8 1.5 0.7 1.6 0.4 1.5 0.2 0 101.5-238.7 0 0-136.3zM496 436.4l-1.6 0.5-1.3 1.2-0.8 1.6 0 1.5 0.6 1.6 1.5 1.4 1.6 0.5 1.5 0 1.6-0.5 1.4-1.4 0.7-1.6-0.1-1.5-0.7-1.6-1.3-1.1-1.6-0.6-1.5 0z"/>
<path fill="#002eff" d="M446.7 371.9l238.7 0 0 17.6-1.5 0.2-1.6 0.4-1.5 0.8-1.7 1.2-1.3 1.6-0.8 1.6-0.5 1.5-0.2 1.6 0.2 1.5 0.4 1.6 0.8 1.5 1.3 1.6 1 0.9 1.5 0.9 2.4 0.7 1.5 0.2 0 100.9-238.7 0 0-136.3zM495.2 436.2l-1.9 1.1-1.1 1.6-0.2 0.8-0.1 1.5 0.5 1.6 1.3 1.5 1.5 0.8 1.6 0.3 2.3-0.5 1-0.6 0.8-0.7 0.8-1.6 0.2-1.6-0.4-1.5-1.1-1.6-1.3-0.9-1.6-0.4-2.3 0.2z"/>
<path fill="#0040ff" d="M446.7 371.9l238.7 0 0 15.8-1.5 0.2-2.4 0.8-1.5 0.9-1.5 1.3-1.1 1.2-0.9 1.6-0.6 1.6-0.4 2.3 0.2 2.3 0.5 1.6 0.8 1.5 1.2 1.6 1.8 1.6 1.5 0.8 1.6 0.6 2.3 0.4 0 100.2-238.7 0 0-136.3zM496 435.6l-1.6 0.5-0.7 0.5-1.5 1.5-0.7 1.6 0 2.3 0.6 1.4 0.7 0.9 1.6 1.3 1.6 0.5 2.3-0.1 2.2-0.9 1.5-1.5 0.6-1.6 0.1-0.8-0.1-1.5-0.7-1.6-1.5-1.6-2.1-0.8-2.3-0.1z"/>
<path fill="#0052ff" d="M446.7 371.9l238.7 0 0 13.6-2.3 0.5-2.3 1-1.6 1-1.5 1.4-1.5 2-0.8 1.7-0.6 2.2-0.2 2.3 0.3 2.3 0.5 1.6 0.8 1.5 1.5 2 1.5 1.3 1.6 1 2.3 1 2.3 0.5 0 99.4-238.7 0 0-136.3zM494.4 435.7l-1.3 0.8-0.8 0.8-0.9 1.6-0.3 0.8-0.2 1.5 0.6 2.4 1.4 1.8 0.8 0.6 1.5 0.7 1.6 0.3 1.5 0 2.3-0.8 1.5-1.2 0.8-1 0.6-1.2 0.2-2.4-0.4-1.5-0.4-0.8-1.5-1.7-1.1-0.6-1.2-0.5-2.3-0.2-2.4 0.6z"/>
<path fill="#0064ff" d="M446.7 371.9l238.7 0 0 10.9-2.3 0.6-2.3 1-2.3 1.6-1.6 1.5-1.5 2.1-0.9 1.8-0.7 2.3-0.3 2.3 0.2 2.4 0.6 2.3 1.1 2.3 1.1 1.6 2 1.9 2.3 1.6 2.3 0.9 2.3 0.6 0 98.6-238.7 0 0-136.3zM495.2 434.9l-2.3 1.3-1.7 1.9-0.7 2.3-0.1 1.6 0.4 1.6 0.6 1.1 0.9 1.2 1.4 1.1 1.5 0.7 1.6 0.4 1.5 0 2.3-0.6 1.5-0.8 0.9-0.8 0.7-0.8 0.8-1.5 0.4-2.4-0.5-2.3-0.9-1.6-0.7-0.8-2.2-1.4-2.3-0.6-1.5 0.1-1.6 0.3z"/>
<path fill="#0076ff" d="M446.7 371.9l238.7 0 0 7.4-3.1 1-2.3 1.2-2.3 1.7-1.8 1.9-1.6 2.4-1.1 2.3-0.7 2.3-0.2 3.2 0.3 3.1 0.7 2.3 1.2 2.3 1.7 2.2 1.7 1.7 2.1 1.5 2.3 1.1 3.1 0.9 0 97.8-238.7 0 0-136.3zM496 434.2l-2.3 0.9-1.6 1.2-0.9 1-0.9 1.6-0.4 1.5-0.1 1.6 0.3 1.6 0.6 1.5 1.1 1.6 1.1 1 1.5 0.9 1.6 0.6 1.5 0.2 1.6 0 1.5-0.4 1.5-0.6 1.4-0.9 1-1 0.9-1.4 0.8-2.3 0.1-1.6-0.3-1.5-1.1-2.4-1.2-1.3-1.5-1-1.6-0.7-1.5-0.3-1.6-0.1-1.5 0.3z"/>
<path fill="#0089ff" d="M446.7 371.9l238.7 0 0 2.7-3.1 1.1-3.1 1.8-3 2.7-2.4 2.9-1.5 2.8-0.8 2.3-0.5 2.4-0.2 3.1 0.3 3.1 0.6 2.3 1.4 3.2 1.6 2.3 2.2 2.3 2.3 1.9 3.1 1.6 3.1 1 0 96.8-238.7 0 0-136.3zM496.8 433.4l-1.6 0.4-1.5 0.7-1.7 1.3-1.4 1.5-0.8 1.6-0.5 1.5-0.1 1.6 0.1 1.6 0.4 1.5 0.9 1.6 1.5 1.8 1.6 1.2 1.5 0.7 1.6 0.4 2.3 0.2 1.5-0.2 2.3-0.8 1.6-0.9 0.9-0.9 1.3-1.5 0.8-1.6 0.4-1.5 0.1-1.6-0.2-1.6-0.4-1.5-0.9-1.6-1.4-1.5-1.4-1.1-1.6-0.8-1.5-0.4-2.3-0.3-1.5 0.2z"/>
<path fill="#009bff" d="M446.7 371.9l231.6 0-2.1 1.9-2.4 2.6-1.5 2.3-1.3 2.5-1 2.5-0.7 3-0.4 2.3 0 3.1 0.4 3.2 0.9 3.1 1.4 3.1 2.1 3.1 2.5 2.7 3 2.3 3.1 1.7 3.1 1.1 0 95.8-238.7 0 0-136.3zM497.5 432.6l-2.3 0.6-1.5 0.7-1.6 1.1-1.5 1.5-1.1 1.6-0.8 2.3-0.2 1.6 0.1 2.3 0.7 2.4 0.9 1.5 1.2 1.5 1.5 1.3 1.5 0.9 2.4 0.8 2.3 0.3 2.3-0.2 2.2-0.7 1.6-0.8 1.6-1.2 1.5-1.7 1-1.7 0.5-1.6 0.3-1.5-0.1-2.4-0.6-2.3-0.9-1.6-1.3-1.5-1.2-1.1-1.5-1-2.4-0.8-2.3-0.4-2.3 0.1z"/>
<path fill="#00adff" d="M446.7 371.9l223.5 0-1.5 3.1-1 2.9-0.8 3.3-0.4 3.1-0.1 3.2 0.2 3.1 0.6 3.1 1 3.1 1.4 3.1 1.3 2.4 1.7 2.3 2.1 2.3 2.2 2 3.1 2.1 2.3 1.3 3.1 1.3 0 94.6-238.7 0 0-136.3zM497.5 431.9l-2.3 0.6-2.3 1.2-2.3 2-1.2 1.6-1.2 2.4-0.5 2.3 0 2.3 0.4 2.4 1 2.3 1.5 2.2 1.5 1.4 2.3 1.5 2.4 0.9 2.3 0.4 2.3 0 2.3-0.4 2.3-0.8 2-1.3 1.8-1.6 1.2-1.5 1.1-2.3 0.6-2.4 0.1-2.3-0.4-2.4-0.9-2.3-1-1.6-1.5-1.5-2.1-1.6-2.4-1.1-2.4-0.6-2.3-0.1-2.3 0.3z"/>
<path fill="#00bfff" d="M446.7 371.9l216.6 0-0.6 3.9-0.1 3.1 0.3 6.2 0.6 3.1 0.8 3.2 1.1 3.1 1.4 3.1 1.8 3.1 1.6 2.3 2 2.4 2.2 2.3 2.5 2.1 3.1 2.2 2.3 1.3 3.1 1.5 0 93.4-238.7 0 0-136.3zM497.5 431l-3.1 1.2-2.3 1.4-1.6 1.4-1.8 2.3-1.2 2.4-0.7 3.1-0.1 2.3 0.5 3.1 1.1 2.8 1.5 2.3 2.3 2.3 2.3 1.5 2.4 1 3 0.6 3.1 0.1 3.1-0.6 2.3-1 2.3-1.4 2.3-2.1 1.7-2.4 1-2.3 0.7-3.1 0-3.1-0.6-2.4-1-2.3-1.6-2.3-1.6-1.6-2.4-1.7-2.3-1-3.1-0.8-3.1-0.1-3.1 0.4z"/>
<path fill="#00d1ff" d="M446.7 371.9l209.4 0 1.2 7 2 7 2.6 6.2 3.6 6.3 4.1 5.4 4.5 4.7 5.1 4 3.1 2 3.1 1.6 0 92.1-238.7 0 0-136.3zM500.6 429.4l-3.8 1-3.1 1.4-3.1 2.3-2.1 2.4-1.7 3.2-1 3.1-0.3 3.1 0.3 3.1 0.9 3.4 1.6 3 2.3 2.9 2.3 1.9 3.1 1.8 3.1 1 3 0.4 3.9-0.2 3.1-0.7 3.1-1.4 3-2.2 2.3-2.5 1.8-2.7 1.2-3.1 0.6-3.1-0.1-3.9-0.8-3.2-1.6-3.1-1.8-2.3-2.7-2.4-3.5-1.9-3.1-1-3-0.4-3.9 0.1z"/>
<path fill="#00e4ff" d="M446.7 371.9l200.9 0 3.7 7.8 3.9 7 4.1 6.2 4.7 6.2 4.9 5.5 5.7 5.4 5.4 4.2 5.4 3.5 0 90.5-238.7 0 0-136.3zM502.1 427.9l-3.8 1-3.9 1.7-3 2.1-3.1 3.1-2 3.1-1.5 3.9-0.7 3.9 0 2.3 0.1 2.3 1 4.2 1.5 3.6 2.4 3.5 3 3.1 1.6 1.1 2.3 1.3 3.8 1.5 3.9 0.6 2.3 0.1 2.3-0.2 2.3-0.5 2.3-0.7 3.9-1.8 3.4-2.5 2.9-3.1 2.4-3.9 1.5-3.9 0.5-2.4 0.2-2.3-0.1-3.9-1-3.9-1.9-3.9-2.5-3.1-3.1-2.7-3.6-2-4.1-1.3-4.6-0.6-4.7 0.3z"/>
<path fill="#00f6ff" d="M446.7 371.9l189.5 0 12.5 14 7.5 7.8 7.1 7 11.3 10.3 5.4 4.4 5.4 4 0 88.8-238.7 0 0-136.3zM506 425.6l-5.4 1.2-4.6 2-3.9 2.4-2.3 2-1.6 1.8-2.8 3.9-1.1 2.3-0.9 2.4-0.8 3.1-0.4 2.3-0.2 5.5 0.7 5.4 0.8 3.1 0.9 2.5 1.5 3 1.4 2.3 1.8 2.3 1.5 1.6 1.5 1.4 2.3 1.6 2.4 1.3 2.3 1 4.6 1.1 2.3 0.3 3.1 0 3.1-0.4 3-0.7 3.1-1 2.3-1.1 2.3-1.4 2.3-1.6 2.4-2 2.2-2.4 1.8-2.3 1.5-2.3 1.4-2.7 1.1-2.8 0.7-2.3 0.7-3.2 0.3-3.1-0.1-3.1-0.3-3.1-0.6-2.3-0.7-2.4-1.1-2.3-1.3-2.4-1.8-2.3-1.5-1.7-2.3-1.9-2.4-1.6-2.3-1.2-2.3-0.9-3.1-0.9-5.3-0.7-3.1 0-3.1 0.3z"/>
<path fill="#09fff6" d="M446.7 371.9l169 0 24.3 14.5 6.9 4.4 6.9 4.7 6.2 4.6 6.9 5.5 18.5 15.9 0 86.7-238.7 0 0-136.3zM512.9 421.7l-3.1 0.5-3.8 1-3.9 1.4-3 1.4-3.1 1.6-2.3 1.6-2.3 1.8-2.7 2.4-2 2.4-1.7 2.3-1.8 3.1-1.4 3.1-2 6.3-1.4 7.8-0.4 4.6-0.2 4.7 0.1 4.7 0.4 4.6 0.6 4 0.8 3.1 1.1 3.1 1.3 2.6 1.8 2.8 2 2.4 2.4 2.1 2.3 1.7 3.1 1.6 3.1 1.2 3 0.9 3.1 0.5 3.9 0.2 3.8-0.1 4.6-0.8 3.9-1 3.8-1.5 3.9-1.9 3.8-2.4 3.9-3.1 3.1-3 3-3.6 2.4-3.3 2.3-3.9 1.8-3.9 1.7-4.7 1.2-4.6 0.8-4.7 0.4-4.7-0.1-4.7-0.6-4.6-0.9-3.9-1.3-3.9-1.5-3.1-2-3.2-2.6-3-2.8-2.4-2.6-1.7-3.1-1.6-4-1.4-3.7-0.8-4.6-0.5-3.9 0.1-4.6 0.4z"/>
<path fill="#1bffe4" d="M446.7 371.9l119.1 0 3.5 3.9 3.7 3.2 3.8 2.4 4.6 2 3.9 1 4.6 0.8 26.2 2.7 6.9 1.1 7 1.3 7.7 2.1 6.9 2.3 6.1 2.6 7 3.5 6.9 4.4 6.9 5.3 7.3 6.6 6.6 6.9 0 84.2-121.5 0 2.3-7.8 1.8-7.8 1.3-8.5 0.7-8.6 0.3-8.6-0.2-9.3-0.6-8.6-1.2-8.6-1.5-6.8-1.6-5.6-2.2-5.4-2.4-4-1.5-1.9-1.5-1.5-3.1-2.2-3.8-1.6-3.9-0.7-5.4-0.1-6.1 0.6-7 1.3-6.9 1.9-6.9 2.4-7 3-6.1 3.1-6.2 4-3.8 3.1-3.1 3-3.1 3.5-2.7 3.9-3.8 7.1-5.8 13.4-2.3 4.8-3.1 5.2-3.1 3.9-1.5 1.6-2.3 2-2.3 1.5-2.4 1.2-2.3 0.7-2.3 0.5-2.3 0.1-2.3-0.3 0-110.2z"/>
<path fill="#2effd1" d="M446.7 371.9l85.4 0 0.9 3.9 0.4 3.9-0.1 3.1-0.4 3.1-0.9 3.1-0.9 2.4-2.5 4.6-2.3 3.1-2 2.4-3.1 3.1-4.4 3.9-19.3 15.1-4.6 4-3.8 3.7-3.5 3.7-3.8 4.7-11.2 16.1-3.1 3.7-2.3 2.3-3.1 2.4-3.8 2.2-3.9 1.4-3.8 0.5-3.9-0.1 0-96.3zM628.1 398.4l4.2-0.3 3.8 0 4.6 0.4 3.9 0.5 4.6 1 3.9 1.2 3.8 1.4 3.9 1.8 3.8 2.1 3.1 2.1 3.1 2.3 3.5 3 3.1 3.2 2.7 3.1 2.4 3.1 2.9 4.2 0 80.7-75.1 0-4.2-7.3-4.6-9.8-3.7-9.4-3.1-10.1-2.4-10.1-1.7-10.2-0.9-9.3-0.1-4.7 0.2-3.9 0.4-3.9 0.5-3.1 0.8-3.1 1.1-3.1 2.5-4.7 2.9-3.9 1.9-1.9 2.4-2 2.2-1.6 3.1-1.8 3.1-1.5 3.2-1.3 6.8-2 7.4-1.1z"/>
<path fill="#40ffbf" d="M446.7 371.9l66.1 0 1.3 3.1 1 3.1 0.7 3.1 0.4 3.9-0.1 3.9-0.5 3.9-0.8 3.1-1.4 3.9-1.5 3.1-2.3 3.9-3.4 4.7-3.2 3.9-4.2 4.7-13.4 14-12.5 14.1-4.6 4.5-4.7 3.5-3.8 2.1-4.6 1.7-4.6 0.6-3.9-0.1 0-88.7zM639.6 403l3.4-0.2 3.9 0 3.8 0.4 3.9 0.7 3.8 1.1 3.9 1.6 3.1 1.6 3.1 1.9 2.9 2.3 2.6 2.3 2.1 2.4 2.5 3.1 2 3.1 2.1 3.9 1.6 3.9 1.1 3.3 0 27.4-1.9 5.1-1.6 3.1-2 3.2-2.2 2.8-3.1 3.1-3.1 2.4-3 1.9-3.1 1.4-3.9 1.3-3.8 0.8-3.9 0.4-3.8-0.1-4.6-0.6-3.9-0.9-3.8-1.4-3.9-1.9-3.8-2.3-3.9-2.9-3.1-2.8-3.1-3.4-3-4-2.5-4-2.2-4.2-1.8-4.3-1.4-4.7-1-4.7-0.5-3.9-0.1-4.7 0.3-3.9 0.8-3.8 1.2-3.9 1.3-3.2 1.8-3.1 2.4-3.1 2.2-2.3 2.7-2.4 3.7-2.5 3.8-2 3.9-1.5 3.8-1 4.3-0.8z"/>
<path fill="#52ffad" d="M446.7 371.9l50.6 0 3.4 4.7 1.4 2.5 1.4 2.9 1.7 5.5 0.8 5.4-0.1 4.7-0.6 3.9-1.3 4.7-1.5 3.9-2.5 4.6-3 4.7-3.5 4.7-4 4.7-5.8 6.3-6.2 6-4.6 4.1-4.6 3.6-4.7 2.8-3.8 1.7-4.6 1.4-4.6 0.5-3.9-0.1 0-83.2zM644.4 406.2l2.5-0.4 3.1-0.2 3.1 0.1 3 0.4 2.3 0.5 3.1 1 3.1 1.3 2.3 1.2 2.3 1.6 2.3 1.8 2.1 2 2 2.3 1.6 2.4 1.8 3.1 1.3 3.1 0.8 2.4 0.7 3.1 0.4 3.1 0 3.1-0.2 3.1-0.5 3.1-0.7 2.7-1 2.8-1.3 2.7-1.6 2.5-2 2.6-1.8 1.9-2.3 2-2.3 1.6-2.4 1.3-3 1.3-2.3 0.7-3.1 0.7-3.1 0.3-3.1 0-3.1-0.3-3-0.7-3.1-1-3.1-1.3-3.1-1.7-2.4-1.7-2.7-2.3-2.3-2.4-1.8-2.3-1.6-2.4-1.7-3.1-1.4-3.1-0.9-3.1-0.7-3.1-0.3-3.1 0-3.2 0.2-2.3 0.6-3.1 0.7-2.3 1.3-3.2 1.3-2.3 1.6-2.3 2.1-2.4 2.6-2.3 2.1-1.6 2.6-1.5 3-1.4 3.1-1.1 2.9-0.6z"/>
<path fill="#64ff9b" d="M446.7 371.9l34.4 0 4.1 2.8 3.1 2.7 3.1 3.2 2.8 3.7 2.2 3.9 1.6 3.9 1 3.9 0.6 3.9 0 3.9-0.5 3.9-1.2 4.7-1.4 3.9-2.4 4.7-2.5 3.9-3 3.9-3.4 3.7-3.8 3.7-4.7 3.9-4.6 3.3-3.8 2.3-4.7 2.2-3.8 1.3-3.9 1-4.6 0.5-4.6-0.1 0-78.7zM651.8 407.7l2.8-0.1 2.3 0.2 4.6 0.9 2.3 0.9 2.3 1.1 3.9 2.5 3.2 3.1 2.8 3.9 1.8 3.9 1.2 4.7 0.2 4.6-0.7 4.7-1.6 4.5-2.3 3.9-3.1 3.4-3.8 2.9-2.3 1.2-2.3 0.9-4.7 1.1-4.6 0.2-3.1-0.3-2.3-0.6-4.6-1.7-2.3-1.3-2.3-1.6-3.5-3.2-2.9-3.9-1.2-2.4-0.9-2.3-1.2-4.7-0.1-4.7 0.2-2.3 0.5-2.3 0.8-2.4 1.1-2.3 2.7-3.9 3.2-3.1 2.2-1.6 2.2-1.2 2.3-1 2.3-0.8 2.3-0.5 2.6-0.4z"/>
<path fill="#76ff89" d="M446.7 373.4l0-0.5 6.2 0.1 5.4 0.5 4.6 0.9 4.6 1.2 3.8 1.4 3.9 1.8 3.8 2.1 3.1 2.2 3.1 2.6 2.5 2.5 2.4 3.2 1.9 3.1 1.5 3.1 1 3.1 0.7 3.9 0.2 3.1-0.2 3.9-0.5 3.1-1.2 3.9-1.8 3.9-1.8 3.1-2.2 3.2-2.5 2.8-3.1 2.9-3.1 2.5-3.8 2.6-3.9 2.1-3.8 1.7-3.9 1.3-3.8 1-4.6 0.8-4.6 0.4-3.9-0.1 0-73.4zM654.5 409.3l2.4-0.1 2.3 0.2 3.9 0.9 3.8 1.7 2.9 1.9 3.1 3.2 2 3.1 1.5 3.9 0.6 3.1 0 3.9-0.5 3.1-1.5 3.9-2.1 3.1-2.9 3-3.1 2.1-3.8 1.7-3.9 0.8-2.3 0.1-2.3-0.1-3.9-0.8-3.8-1.5-3.1-2-3.1-2.9-2.3-3.3-1.5-3.3-0.9-3.9-0.1-3.9 0.7-3.9 1.6-3.9 2.2-3.1 1.6-1.6 1.8-1.5 3.1-1.8 3.8-1.5 3.8-0.6z"/>
<path fill="#89ff76" d="M446.7 381.2l3.1-0.1 3.8 0.1 7 0.9 6.9 1.7 6.2 2.4 5.3 3.1 2.4 1.7 2.3 2 2.2 2.3 1.6 2 2.5 4.2 1 2.3 0.8 2.4 0.5 2.3 0.3 3.1-0.1 3.1-0.3 2.4-0.6 2.3-1.1 3.1-1.1 2.4-1.5 2.3-1.7 2.3-1.8 2-2.3 2.1-2.3 1.8-2.3 1.5-3.1 1.6-3.1 1.3-3 1.1-6.2 1.4-7.7 0.9-7.7 0.1 0-62.1zM654.4 410.8l3.3-0.3 3.8 0.3 3.1 0.9 3.1 1.6 2.8 2.2 2 2.3 1.4 2.4 1.1 3.1 0.5 3.1-0.2 3.1-0.8 3.1-1.4 3-1.6 2.1-2.3 2.3-3.1 1.9-3 1.2-3.9 0.6-3.1-0.1-3.8-0.9-3.1-1.4-2.4-1.6-2.4-2.4-2-3.1-1.2-3.1-0.6-3.9 0.3-3.1 0.9-3.1 1.7-3.2 2-2.3 2.9-2.3 3.1-1.5 2.9-0.9z"/>
<path fill="#9bff64" d="M446.7 389l0-0.6 5.4 0 4.6 0.3 7.2 1.1 5.9 1.6 4.6 1.9 4.6 2.6 3.9 3.1 2.9 3.3 2.5 3.9 1.5 3.9 0.5 2.3 0.2 2.3-0.2 3.9-0.9 3.9-1.8 3.9-1.6 2.4-1.3 1.5-3.3 3-2.4 1.6-3 1.6-3.9 1.5-3.8 0.9-3.9 0.6-3.8 0.3-13.9 0.1 0-50.9zM658.3 411.6l2.5 0.1 3 0.6 2.3 0.9 3.1 2.1 1.8 1.8 1.5 2.3 1.2 3.1 0.4 2.4-0.2 3.1-0.6 2.3-1 2.3-1.5 2.1-2.3 2.2-2.4 1.4-3 1.1-2.3 0.4-3.1 0-2.3-0.4-3.1-1.2-2.6-1.7-2-2-1.6-2.2-1.2-2.8-0.5-2.3 0-3.1 0.5-2.4 1.4-3.1 1.8-2.3 1.7-1.6 2.5-1.5 3.1-1.1 2.9-0.5z"/>
<path fill="#adff52" d="M446.7 396l0-0.4 10 0.1 6.2 0.6 4.6 0.8 3.8 1 3.9 1.5 3.8 2.1 3.1 2.3 2.8 2.9 1.8 2.9 1.4 3.4 0.6 3.1 0 3.9-0.7 3.1-1.3 3.1-2.3 3.2-2.3 2.2-3.1 2.1-3.8 1.7-3.9 1-3 0.4-3.9 0-11.5-0.9-6.2 0 0-40.1zM656.4 413.2l2.8-0.5 2.3 0 2.3 0.4 2.3 0.9 2.3 1.5 1.6 1.6 1.2 1.5 1.1 2.4 0.5 2.3 0 2.3-0.4 2.4-0.9 2-1.5 2.3-1.5 1.5-1.6 1-2.3 1.1-2.3 0.6-3.1 0.1-2.3-0.4-2.3-0.8-2-1.2-1.8-1.6-1.2-1.5-1.3-2.3-0.6-2.4-0.2-2.3 0.4-2.4 0.9-2.3 1.5-2.3 1.6-1.6 1.9-1.3 2.6-1z"/>
<path fill="#bfff40" d="M457.1 402.3l5-0.2 3.9 0.1 3.8 0.5 3.1 0.7 3.1 1 3 1.6 2.4 1.6 2.3 2.3 1.7 2.5 1.3 2.9 0.6 2.5 0.1 3.2-0.4 2.3-1.2 3.1-1.5 2.4-2.2 2.2-2.3 1.6-3.1 1.4-3 0.8-3.1 0.4-3.1-0.1-3.1-0.4-11.5-2.6-3.1-0.3-3.1 0.2 0-29.5 10.4-0.2zM657.9 413.9l2.1-0.3 2.3 0 2.3 0.6 1.5 0.6 1.6 1 1.5 1.4 1.1 1.4 1.1 2.4 0.3 1.5 0 2.4-0.5 2.3-0.7 1.6-1.3 1.7-1.5 1.4-1.6 1-1.5 0.6-2.3 0.5-2.3 0.1-2.3-0.5-1.6-0.5-1.5-0.9-1.5-1.3-1.6-1.9-0.9-1.8-0.4-1.6-0.2-2.3 0.4-2.3 0.7-1.6 0.9-1.6 1.8-1.8 2-1.3 2.1-0.8z"/>
<path fill="#d1ff2e" d="M465.9 406.9l3.1-0.1 2.3 0.1 3.1 0.6 2.3 0.7 2.3 1.1 2.4 1.6 1.5 1.5 1.7 2.3 1.1 2.4 0.5 2.3 0.1 2.3-0.4 2.4-0.9 2.3-1.3 2.1-1.6 1.6-2.3 1.7-2.3 1-3.1 0.8-2.3 0.2-3.1-0.2-3-0.7-2.8-1-8-4-3.1-1.3-2.3-0.3-1.6 0.1-1.5 0.3 0-16.7 3.1 0.3 2.3-0.2 9.2-2.4 4.6-0.8zM658.8 414.7l2-0.3 1.5 0 1.5 0.3 1.6 0.5 1.5 0.8 1.3 1.1 1.3 1.5 0.8 1.6 0.4 1.5 0.2 1.6-0.2 1.6-0.7 2.1-0.8 1.2-1.5 1.7-1.6 1-1.5 0.7-2.3 0.5-1.5 0-2.4-0.4-1.5-0.7-1.5-1-1.3-1.2-1.1-1.6-0.6-1.6-0.3-1.5 0-2.4 0.5-1.5 0.8-1.6 1.2-1.5 1-0.8 1.3-0.8 1.9-0.8z"/>
<path fill="#e4ff1b" d="M466.8 410.8l3-0.6 2.3-0.1 2.3 0.3 2.3 0.5 2.3 1 1.6 1 1.5 1.3 1.6 1.9 0.9 1.7 0.7 2.4 0.1 2.3-0.3 1.6-0.8 2.3-1 1.6-1.2 1.3-1.5 1.3-2.3 1.2-3.1 0.7-3.1 0.1-2.3-0.4-3.2-1.1-2.7-1.6-2.7-2.3-2-2.3-1.2-2.4-0.5-1.5 0.1-2.4 0.6-1.5 1.7-2.4 1.9-1.5 2.6-1.5 2.4-0.9zM659.2 415.5l1.6-0.4 1.5 0 1.5 0.2 1.6 0.5 1.5 0.9 1.2 1.1 1.5 2.4 0.4 1.5 0 1.6-0.5 2.3-0.9 1.6-0.9 1-2.3 1.6-1.6 0.5-1.5 0.2-1.5-0.1-1.6-0.3-1.5-0.7-1.6-1.1-1-1.1-0.9-1.6-0.4-1.5-0.2-1.6 0.3-1.5 0.6-1.6 1-1.6 0.8-0.7 1.4-0.9 1.5-0.7z"/>
<path fill="#f6ff09" d="M469.7 413.2l1.6-0.4 2.4-0.2 2.3 0.3 1.5 0.4 1.5 0.7 1.6 0.9 1.5 1.4 1.2 1.5 0.7 1.6 0.4 1.6 0.2 1.5-0.4 2.4-0.6 1.5-1 1.6-1.2 1.2-1.6 1.1-1.5 0.7-2.3 0.6-2.3 0.1-2.4-0.4-2.6-1-2-1.3-1.9-1.8-1.1-1.6-0.7-1.5-0.5-2.4 0.1-1.5 0.5-1.6 0.9-1.5 1.4-1.6 2.1-1.4 2.2-0.9zM659.3 416.3l1.5-0.5 1.5-0.1 2.3 0.4 2.3 1.3 1.6 2 0.8 2.3 0 1.6-0.4 1.6-1.2 1.8-0.8 0.8-1.5 1-2.3 0.7-1.6 0-1.5-0.3-2.3-1.2-0.8-0.7-1.1-1.4-0.8-2.3 0-1.6 0.4-1.5 0.9-1.6 0.6-0.8 1-0.7 1.4-0.8z"/>
<path fill="#fff600" d="M472.7 414.7l1.7-0.1 1.6 0.1 1.5 0.3 1.5 0.6 2.4 1.7 1.1 1.3 0.8 1.6 0.4 1.5 0.1 1.6-0.2 1.6-0.6 1.5-0.9 1.3-1 1.1-1.3 0.9-1.5 0.7-1.6 0.4-1.5 0.1-2.3-0.2-1.6-0.5-1.5-0.8-1.8-1.4-1.3-1.6-0.7-1.5-0.4-1.6-0.1-1.6 0.3-1.5 0.8-1.6 1.3-1.5 1.1-0.9 1.6-0.8 2.1-0.7zM659.3 417.1l2.2-0.7 2.3 0.1 2.3 1 1.6 1.6 0.8 1.9 0.1 2.3-0.9 2.1-1.6 1.5-2.3 1-2.3 0.2-2.3-0.8-1.2-0.9-0.7-0.8-0.5-0.7-0.6-1.6 0-2.3 0.3-0.8 0.9-1.6 0.8-0.8 1.1-0.7z"/>
<path fill="#ffe400" d="M473.5 416.3l2.5-0.2 1.5 0.3 1.5 0.6 1.6 1 0.8 0.7 0.7 1 0.6 1.3 0.4 1.5 0 1.6-0.7 2.3-1 1.4-0.8 0.7-2.3 1.3-1.6 0.4-1.5 0-1.5-0.2-1.6-0.5-1.5-1-1.4-1.3-1.3-2.3-0.3-1.6 0.1-1.6 1-2.3 1.9-1.9 1.5-0.8 1.4-0.4zM661 417.1l2.1-0.3 2.3 0.7 1.3 1.1 1 1.6 0.3 0.8 0.1 1.5-0.5 1.6-0.7 1.1-0.8 0.8-1.5 0.8-1.5 0.4-2.3-0.3-1.1-0.5-1.1-0.8-1.1-1.5-0.4-1.6 0.1-1.5 0.2-0.8 1-1.6 0.9-0.8 1.7-0.7z"/>
<path fill="#ffd100" d="M473.2 417.8l2-0.4 2.3 0.1 2.3 1.1 1.7 1.6 0.6 1.1 0.4 1.2-0.1 2.4-0.6 1.5-0.4 0.7-1.6 1.4-2.3 1-1.5 0.1-1.6-0.2-2.3-0.9-1.4-1.3-0.6-0.8-0.9-2.3 0.2-2.4 0.8-1.5 0.6-0.8 1.3-1.1 1.1-0.5zM660.4 417.8l1.9-0.5 1.5 0.1 1.6 0.6 1.4 1.4 0.7 1.6 0 1.5-0.6 1.6-0.8 1-0.7 0.6-1.6 0.6-2.3 0-1.5-0.7-0.9-0.7-0.6-0.8-0.6-1.6 0-1.5 0.7-1.6 0.7-0.8 1.1-0.8z"/>
<path fill="#ffbf00" d="M661.8 417.8l1.3-0.1 1.5 0.4 1.5 1.1 0.7 1 0.3 1.5-0.3 1.6-0.7 1-1.5 1.1-1.5 0.4-1.6-0.2-1.5-0.8-1.1-1.5-0.4-1.6 0.4-1.5 0.4-0.8 0.8-0.8 1.7-0.8zM474.4 418.6l2.3-0.2 2.3 0.6 1.6 1.2 1 1.5 0.4 1.6-0.1 1.6-0.2 0.7-1 1.6-1.7 1.3-2.3 0.6-2.3-0.3-1.5-0.8-0.8-0.6-1.3-1.8-0.4-1.5 0-0.8 0.4-1.6 1.3-1.8 0.8-0.6 1.5-0.7z"/>
<path fill="#ffad00" d="M661 418.6l1.3-0.5 1.5 0.1 1 0.4 1 0.8 0.6 0.8 0.3 1.5-0.4 1.6-0.9 1-1.6 0.8-1.5 0.1-1.5-0.6-0.8-0.7-0.8-1.4 0-1.5 0.3-0.8 0.5-0.8 1-0.8zM475 419.4l1.7-0.2 2.3 0.6 1.4 1.2 0.9 1.5 0.3 1.6-0.4 1.5-1.1 1.6-1.8 1.1-2.3 0.3-1.6-0.4-1.5-1-1.1-1.6-0.3-0.7 0-1.6 0.5-1.6 1.4-1.5 1.6-0.8z"/>
<path fill="#ff9b00" d="M661.9 418.6l1.2-0.2 1.5 0.4 0.8 0.6 0.6 0.8 0.3 1.5-0.1 0.8-0.8 1.3-0.8 0.5-1.5 0.4-1.6-0.3-1.3-1.1-0.4-0.8-0.1-1.5 0.3-0.8 0.8-1 1.1-0.6zM475.1 420.2l1.6-0.3 1.6 0.3 1.5 0.9 1 1.4 0.3 1.6-0.3 1.5-0.5 0.8-1.3 1.2-1.5 0.5-0.8 0.1-1.5-0.3-1.5-0.9-1.1-1.4-0.3-1.5 0.2-1.6 1.2-1.5 1.4-0.8z"/>
<path fill="#ff8900" d="M661.1 419.4l1.2-0.6 0.8-0.1 0.7 0.1 1.1 0.6 0.7 0.8 0.3 0.8-0.1 1.5-0.5 0.8-0.7 0.6-1.5 0.4-1.6-0.4-0.7-0.6-0.5-0.8-0.2-1.5 0.3-0.8 0.7-0.8zM475 421l1.7-0.5 1.6 0.3 1.5 0.9 0.5 0.8 0.5 1.6-0.1 0.8-0.8 1.5-0.9 0.8-1.5 0.5-1.5 0-1.6-0.7-1.1-1.4-0.3-0.7 0-1.6 0.9-1.6 1.1-0.7z"/>
<path fill="#ff7600" d="M661.7 419.4l1.4-0.4 0.7 0.1 0.8 0.4 0.7 0.7 0.3 0.8 0.1 0.7-0.3 0.9-0.8 0.9-0.8 0.3-1.5 0-0.8-0.3-0.7-0.9-0.4-0.9 0.1-0.7 0.3-0.8 0.9-0.8zM474.8 421.7l1.2-0.5 0.7-0.2 1.6 0.3 0.8 0.4 0.8 0.8 0.5 1.6-0.3 1.5-0.6 0.8-1.2 0.8-1.6 0.2-1.5-0.4-0.7-0.6-0.6-0.8-0.4-1.5 0.6-1.6 0.7-0.8z"/>
<path fill="#ff6400" d="M662.4 419.4l0.7-0.1 0.7 0.1 1.2 0.8 0.3 0.8 0.1 0.7-0.3 0.8-0.5 0.6-0.8 0.4-0.7 0.1-0.8-0.1-0.8-0.5-0.4-0.5-0.3-0.8 0-0.7 0.4-0.8 1.2-0.8zM475.8 421.7l0.9-0.2 1.6 0.2 0.7 0.5 0.9 1.1 0.2 0.8-0.1 0.8-0.3 0.7-0.7 0.8-0.7 0.5-0.8 0.2-1.5-0.2-0.9-0.5-0.7-0.8-0.3-0.7-0.1-0.8 0.2-0.8 0.5-0.8 1.1-0.8z"/>
<path fill="#ff5200" d="M661.6 420.2l0.7-0.6 0.8-0.1 0.7 0.1 0.8 0.5 0.5 0.9 0.1 0.7-0.4 0.8-1 0.7-0.7 0.1-0.8-0.1-0.9-0.7-0.3-0.8 0-0.7 0.5-0.8zM475.3 422.5l0.7-0.4 1.5-0.2 0.8 0.2 0.6 0.4 0.7 0.8 0.2 0.8-0.1 0.8-0.3 0.7-0.8 0.8-1.1 0.4-0.8 0-1-0.4-0.9-0.8-0.3-0.7 0-0.8 0.2-0.8 0.6-0.8z"/>
<path fill="#ff4000" d="M661.9 420.2l1.2-0.5 0.7 0.1 0.6 0.4 0.5 0.8 0 0.7-0.4 0.8-0.7 0.5-0.7 0.1-0.8-0.2-0.5-0.4-0.5-0.8 0.1-0.7 0.5-0.8zM475.9 422.5l0.8-0.3 0.8 0 0.8 0.2 0.9 0.9 0.3 0.8 0 0.8-0.4 0.7-0.8 0.7-0.8 0.3-0.8 0-0.7-0.3-0.8-0.7-0.3-0.7-0.1-0.8 0.3-0.8 0.8-0.8z"/>
<path fill="#ff2e00" d="M662.2 420.2l0.9-0.4 0.7 0.2 0.8 0.8 0.1 0.9-0.9 1.1-0.7 0.1-0.8-0.2-0.7-1 0-0.7 0.6-0.8zM476.7 422.5l0.8 0 0.8 0.2 0.6 0.6 0.4 0.8 0 0.8-0.5 0.7-0.5 0.5-0.8 0.3-0.8-0.1-1.1-0.7-0.4-0.7 0-0.8 0.3-0.8 0.5-0.4 0.7-0.4z"/>
<path fill="#ff1b00" d="M662.6 420.2l0.5-0.2 0.7 0.2 0.7 0.8 0 0.7-0.7 0.8-0.7 0.2-0.8-0.3-0.5-0.7 0-0.7 0.8-0.8zM475.9 423.3l0.8-0.5 0.8-0.1 0.8 0.3 0.8 1.1-0.1 0.8-0.4 0.7-1.1 0.6-0.8-0.1-0.7-0.4-0.6-0.8 0-0.8 0.5-0.8z"/>
<path fill="#ff0900" d="M661.9 421l0.4-0.5 0.8-0.3 0.7 0.1 0.6 0.7 0 0.7-0.6 0.7-0.7 0.1-0.8-0.3-0.4-0.5 0-0.7zM476.2 423.3l0.5-0.3 0.8-0.1 0.8 0.4 0.6 0.8 0 0.8-0.6 0.7-0.8 0.4-0.8-0.1-0.7-0.6-0.3-0.4 0-0.8 0.5-0.8z"/>
<path fill="#f60000" d="M662.1 421l1-0.7 0.7 0.2 0.5 0.5 0 0.7-0.5 0.5-0.7 0.2-1-0.7 0-0.7zM476.6 423.3l0.9-0.2 0.8 0.4 0.4 0.6 0 0.8-0.4 0.6-0.8 0.3-0.8-0.1-0.7-0.8-0.1-0.8 0.7-0.8z"/>
<path fill="#e40000" d="M662.3 421l0.8-0.6 0.7 0.2 0.3 0.4 0 0.7-0.3 0.4-0.7 0.2-0.8-0.6 0-0.7zM477.5 423.3l0.8 0.4 0.3 0.4 0 0.8-0.3 0.3-0.8 0.5-0.8-0.2-0.6-0.6 0-0.8 0.6-0.7 0.8-0.1z"/>
<path fill="#d10000" d="M662.4 421l0.7-0.5 0.7 0.3 0.2 0.2 0 0.7-0.9 0.5-0.7-0.5 0-0.7zM476.2 424.1l0.5-0.5 0.8-0.2 0.9 0.7 0 0.8-0.9 0.6-0.8-0.1-0.5-0.5 0-0.8z"/>
<path fill="#bf0000" d="M662.5 421l0.6-0.5 0.7 0.4 0 0.8-0.7 0.4-0.6-0.4 0-0.7zM476.4 424.1l0.3-0.4 0.8-0.2 0.7 0.6 0.1 0.8-0.8 0.5-0.8-0.1-0.3-0.4 0-0.8z"/>
<path fill="#ad0000" d="M662.6 421l0.5-0.4 0.6 0.4 0 0.7-0.6 0.4-0.4-0.4-0.1-0.7zM476.5 424.1l1-0.4 0.6 0.4 0 0.8-0.6 0.4-0.8-0.2-0.2-0.2 0-0.8z"/>
<path fill="#9b0000" d="M662.8 421l0.3-0.3 0.4 0.3 0 0.7-0.4 0.3-0.3-0.3 0-0.7zM476.7 424.1l0.8-0.3 0.4 0.3 0 0.8-0.4 0.3-0.8-0.2 0-0.9z"/>
<path fill="#890000" d="M662.9 421l0.2-0.2 0.2 0.2 0 0.7-0.2 0.2-0.2-0.2 0-0.7zM477 424.1l0.5-0.2 0.2 0.2 0.1 0.8-0.3 0.1-0.6-0.1 0.1-0.8z"/>
<path fill="none" stroke="#d8d42a" stroke-width="0.9" d="M544.3 371.9l1 3.9 0.6 3.9 0.1 3.1-0.3 3.1-0.9 3.1-1 2.4-2 3.1-2 2.3-2.5 2.3-1.9 1.6-5.6 3.9-6.4 3.9-15.1 8.8-7.7 4.9-5.4 4-4.6 4-3.9 4-3.8 4.7-3.6 5.4-6.4 11.3-3.1 4.8-3.1 4-1.5 1.6-2.3 2.2-2.3 1.6-1.6 1-2.3 1.1-1.5 0.5-2.3 0.6-2.3 0.3-1.6 0-2.3-0.2M588 508.2l-4.5-35.8-2.1-18.7-1.4-14.8-0.3-5.5-0.1-4.6 0.2-4.7 0.4-3.9 0.6-3.1 0.9-3.2 1.3-2.8 1.5-2.4 1.6-1.9 2.3-2.1 2.2-1.7 2.4-1.4 2.3-1.2 3-1.3 3.2-1.1 3-0.9 3.9-0.9 3.8-0.6 7-0.8 3.8-0.2 3.9 0.1 6.9 0.4 3.9 0.6 3.8 0.7 6.2 1.6 6.1 2.3 3.1 1.4 3.1 1.5 5.4 3.2 5.4 4 4.9 4.3 4.5 4.7 2.7 3.1 2.5 3.2"/>
<path fill="none" stroke="#d8d42a" stroke-width="0.9" d="M669.2 371.9l-1.3 3.1-1 3.1-0.6 3.1-0.3 3.1 0 3.2 0.3 3.1 0.6 3.1 1 3.1 1.5 3.1 1.4 2.4 1.7 2.3 2.1 2.3 2.3 2.1 2.6 1.8 2.8 1.6 3.1 1.3M497.5 431.8l-2.3 0.6-2.3 1.2-1.5 1.2-0.8 0.8-1.3 1.7-1.2 2.4-0.5 2.3-0.1 2.3 0.4 2.4 1 2.3 0.9 1.6 1.6 1.7 2.3 1.8 2.3 1 2.3 0.6 1.5 0.2 1.6 0 2.3-0.4 2.3-0.8 2.3-1.4 1.5-1.3 1.7-2.2 1.1-2.3 0.6-2.4 0.1-2.3-0.5-2.4-0.9-2.3-1-1.6-1.4-1.5-2.1-1.6-2.2-1-2.3-0.7-1.5-0.2-1.6 0-2.3 0.3"/>
<path fill="none" stroke="#d9431e" stroke-width="1.0" d="M446.7 388l4.6 0 4.6 0.2 4.7 0.6 3.8 0.8 3.9 1 3.8 1.3 3.1 1.5 3.1 1.7 3.1 2.2 2.3 2.1 2.3 2.7 1.5 2.3 1.3 2.5 1.1 3.2 0.5 2.3 0.2 3.1-0.2 3.1-0.7 3.1-1.2 3.2-1.4 2.3-1.7 2.3-2.2 2.4-2.6 2.1-2.3 1.4-3.1 1.6-2.3 0.8-3.1 0.9-3.8 0.7-3.1 0.4-3.9 0.2-12.3 0.1M657.5 411.6l2.5-0.1 3.1 0.5 2.3 0.8 1.5 0.8 1.6 1 1.9 1.7 1.8 2.3 1.1 2.4 0.5 1.5 0.3 1.6 0.1 1.5-0.1 1.6-0.4 2.3-0.9 2.4-1.5 2.3-2.1 2.2-2.3 1.7-2.3 1-3.1 0.8-3.1 0.1-3-0.4-1.6-0.5-1.5-0.7-2.3-1.4-2.2-2-1.7-2.4-1.1-2.3-0.5-1.5-0.3-1.6 0-1.6 0-1.5 0.5-2.4 1-2.3 1.5-2.3 2-2 2.3-1.6 1.6-0.8 1.5-0.5 2.9-0.6"/>
<path stroke="#222" stroke-opacity="0.5" stroke-width="0.6" d="M449.5 440.1H682.6"/>
</g>
<path fill="#fff" d="M446.5 371.5H685.6V508.6H446.5zM449.5 374.5H682.6V505.6H449.5z" fill-rule="evenodd"/>
<text x="446.2" y="378.2" font-size="11.4" text-anchor="end" fill="#262626">1.5</text>
<text x="446.2" y="400.1" font-size="11.4" text-anchor="end" fill="#262626">1</text>
<text x="446.2" y="421.9" font-size="11.4" text-anchor="end" fill="#262626">0.5</text>
<text x="446.2" y="443.8" font-size="11.4" text-anchor="end" fill="#262626">0</text>
<text x="446.2" y="465.6" font-size="11.4" text-anchor="end" fill="#262626">-0.5</text>
<text x="446.2" y="487.4" font-size="11.4" text-anchor="end" fill="#262626">-1</text>
<text x="446.2" y="509.3" font-size="11.4" text-anchor="end" fill="#262626">-1.5</text>
<text x="496.1" y="518.6" font-size="11.4" text-anchor="middle" fill="#262626">1</text>
<text x="542.7" y="518.6" font-size="11.4" text-anchor="middle" fill="#262626">2</text>
<text x="589.4" y="518.6" font-size="11.4" text-anchor="middle" fill="#262626">3</text>
<text x="636.0" y="518.6" font-size="11.4" text-anchor="middle" fill="#262626">4</text>
<text x="682.6" y="518.6" font-size="11.4" text-anchor="middle" fill="#262626">5</text>
<text x="566" y="530.1" font-size="11.5" font-style="italic" text-anchor="middle" fill="#555">ω<tspan font-size="8" dy="2">r</tspan></text>
<text transform="translate(423.6 440.1) rotate(-90)" font-size="11.5" font-style="italic" text-anchor="middle" fill="#555">ω<tspan font-size="8" dy="2">i</tspan></text>
</g>
<text x="545.6" y="241.2" font-size="11.3" fill="#111" textLength="34.1" lengthAdjust="spacing">|<tspan font-style="italic">R</tspan>| = 1</text>
<text x="473.2" y="289.0" font-size="11.3" fill="#111" textLength="48.7" lengthAdjust="spacing">|<tspan font-style="italic">R</tspan>| = 0.25</text>
<text x="477.4" y="316.9" font-size="11.3" fill="#111" textLength="42.4" lengthAdjust="spacing">|<tspan font-style="italic">R</tspan>| = 0.5</text>
<text x="535.2" y="330.8" font-size="15.6" fill="#ff0000" textLength="145.8" lengthAdjust="spacing">(d) In-Series Resonator</text>
<text x="449.9" y="385.0" font-size="11.3" fill="#111" textLength="33.3" lengthAdjust="spacing">|<tspan font-style="italic">R</tspan>| = 1</text>
<text x="548.5" y="387.4" font-size="11.3" fill="#111" textLength="42.0" lengthAdjust="spacing">|<tspan font-style="italic">R</tspan>| = 0.5</text>
<text x="485.3" y="466.5" font-size="11.3" fill="#111" textLength="48.7" lengthAdjust="spacing">|<tspan font-style="italic">R</tspan>| = 0.25</text>
<text x="539.4" y="475.6" font-size="11.3" fill="#111" textLength="42.8" lengthAdjust="spacing">|<tspan font-style="italic">R</tspan>| = 0.5</text>
<text x="524.8" y="498.5" font-size="15.6" fill="#0000ff" textLength="154.7" lengthAdjust="spacing">(e) In-Parallel Resonator</text>
</svg></body></html>
